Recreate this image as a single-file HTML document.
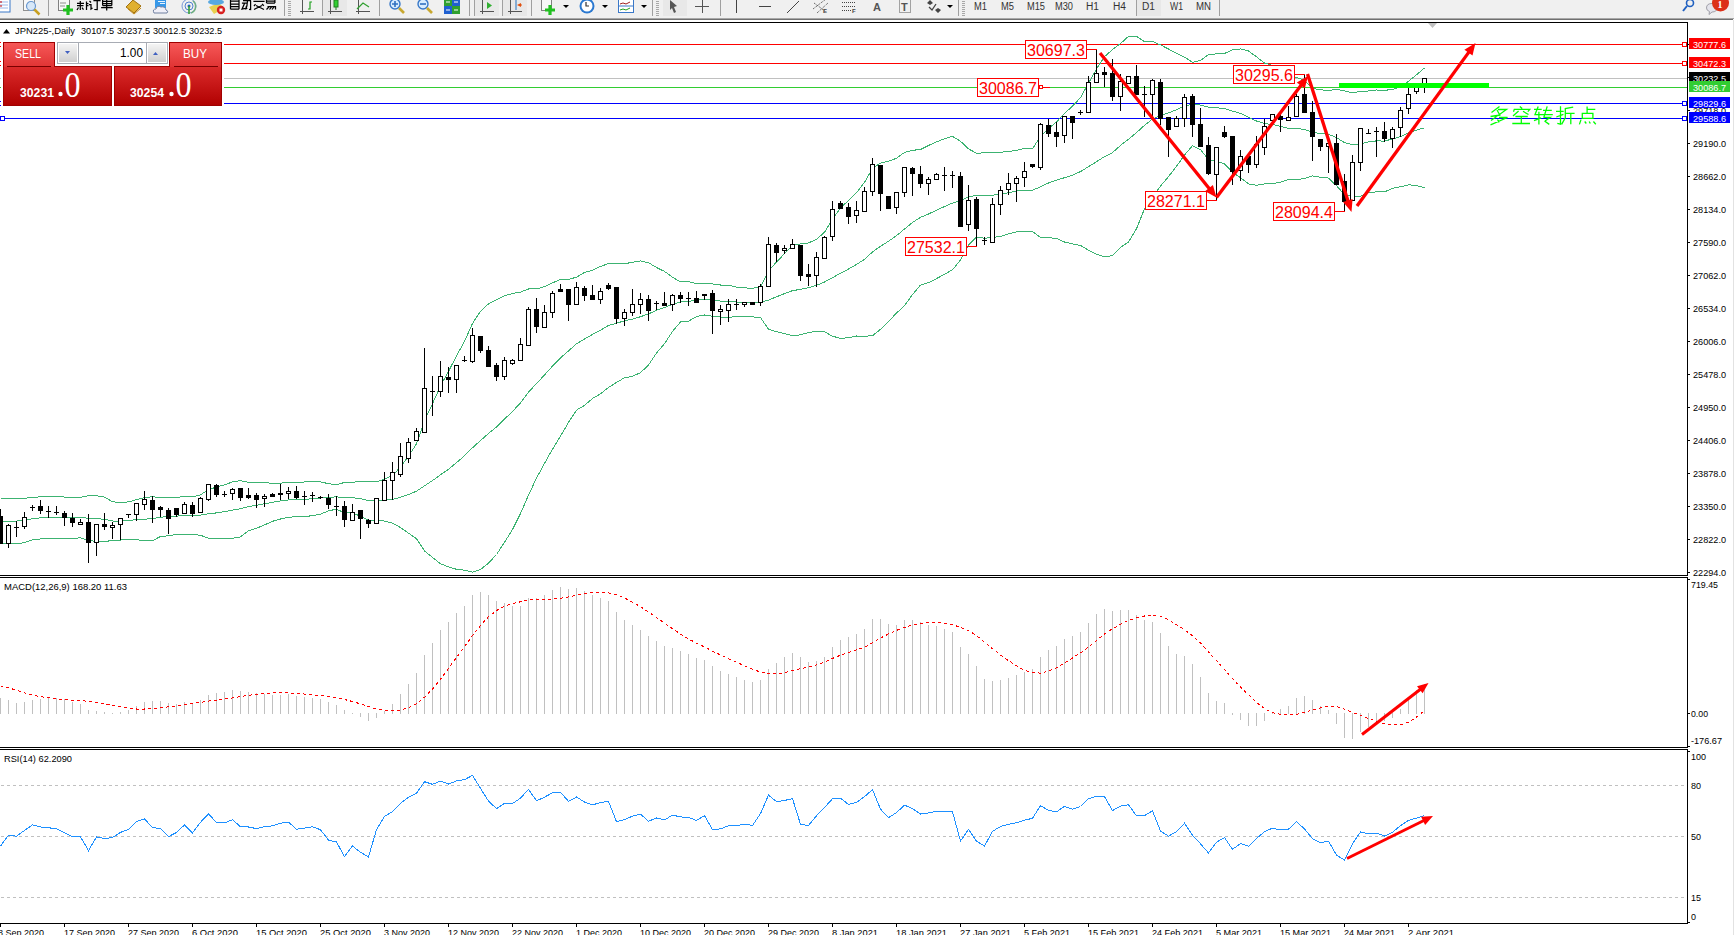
<!DOCTYPE html><html><head><meta charset="utf-8"><style>html,body{margin:0;padding:0;background:#fff;overflow:hidden}body{width:1734px;height:935px;position:relative}svg{position:absolute;left:0;top:0}</style></head><body>
<svg width="1734" height="935" viewBox="0 0 1734 935" font-family='"Liberation Sans", sans-serif'>
<rect x="0" y="0" width="1734" height="935" fill="#fff"/>
<g shape-rendering="crispEdges" fill="none" stroke="#000">
<path d="M0 22.5H1687.5V575.5H0"/>
<path d="M0 577.5H1687.5V747.5H0"/>
<path d="M0 749.5H1687.5V923.5H0"/>
<path d="M1688 572.5H1690M1688 539.5H1690M1688 506.5H1690M1688 473.5H1690M1688 440.5H1690M1688 407.5H1690M1688 374.5H1690M1688 341.5H1690M1688 308.5H1690M1688 275.5H1690M1688 242.5H1690M1688 209.5H1690M1688 176.5H1690M1688 143.5H1690"/>
</g>
<path d="M1428 23H1437L1432.5 28Z" fill="#c0c0c0"/>
<g shape-rendering="crispEdges" fill="none">
<path d="M224 44.5H1683M224 63.5H1683M0 44.5H2M0 63.5H2" stroke="#ff0000"/>
<path d="M0 78.5H1687" stroke="#c0c0c0"/>
<path d="M0 87.5H1687" stroke="#32cd32"/>
<path d="M224 103.5H1683M0 118.5H1683M0 103.5H2" stroke="#0000ff"/>
<rect x="1682.5" y="42.5" width="4" height="4" fill="#fff" stroke="#ff0000"/>
<rect x="1682.5" y="61.5" width="4" height="4" fill="#fff" stroke="#ff0000"/>
<rect x="1682.5" y="101.5" width="4" height="4" fill="#fff" stroke="#0000ff"/>
<rect x="1682.5" y="116.5" width="4" height="4" fill="#fff" stroke="#0000ff"/>
<rect x="0.5" y="116.5" width="4" height="4" fill="#fff" stroke="#0000ff"/>
<rect x="-2.5" y="42.5" width="4" height="4" fill="#fff" stroke="#ff0000"/><rect x="-2.5" y="61.5" width="4" height="4" fill="#fff" stroke="#ff0000"/><rect x="-2.5" y="101.5" width="4" height="4" fill="#fff" stroke="#0000ff"/>
</g>
<polyline points="0.5,498.3 8.5,498.3 16.5,498.3 24.5,498.2 32.5,497.5 40.5,496.8 48.5,496.2 56.5,496.8 64.5,497.0 72.5,497.0 80.5,497.3 88.5,495.7 96.5,495.8 104.5,497.1 112.5,501.8 120.5,502.5 128.5,501.9 136.5,499.6 144.5,497.6 152.5,496.7 160.5,497.7 168.5,497.7 176.5,497.6 184.5,496.3 192.5,496.9 200.5,494.9 208.5,489.5 216.5,487.1 224.5,484.8 232.5,481.9 240.5,480.7 248.5,482.4 256.5,482.3 264.5,482.6 272.5,483.3 280.5,483.1 288.5,482.6 296.5,482.3 304.5,482.0 312.5,481.7 320.5,481.8 328.5,483.7 336.5,484.8 344.5,482.4 352.5,482.5 360.5,481.1 368.5,481.3 376.5,481.7 384.5,479.2 392.5,475.5 400.5,467.0 408.5,456.0 416.5,443.9 424.5,420.7 432.5,403.7 440.5,385.8 448.5,371.4 456.5,355.9 464.5,341.4 472.5,323.5 480.5,311.3 488.5,303.9 496.5,299.6 504.5,295.8 512.5,293.5 520.5,292.1 528.5,289.0 536.5,288.9 544.5,286.7 552.5,282.9 560.5,279.4 568.5,279.4 576.5,277.2 584.5,272.5 592.5,270.2 600.5,266.4 608.5,263.6 616.5,263.9 624.5,263.8 632.5,262.2 640.5,260.9 648.5,262.7 656.5,267.5 664.5,271.4 672.5,277.2 680.5,281.9 688.5,281.6 696.5,283.8 704.5,283.6 712.5,283.9 720.5,285.0 728.5,285.0 736.5,287.2 744.5,287.9 752.5,288.3 760.5,287.1 768.5,271.1 776.5,262.0 784.5,253.7 792.5,245.5 800.5,243.9 808.5,242.9 816.5,239.3 824.5,232.3 832.5,219.1 840.5,208.0 848.5,200.4 856.5,192.8 864.5,182.4 872.5,168.4 880.5,163.1 888.5,161.1 896.5,158.3 904.5,152.4 912.5,150.3 920.5,149.5 928.5,145.5 936.5,141.8 944.5,138.8 952.5,136.3 960.5,141.3 968.5,148.8 976.5,153.3 984.5,152.8 992.5,152.8 1000.5,152.2 1008.5,151.5 1016.5,150.3 1024.5,148.4 1032.5,148.7 1040.5,136.3 1048.5,128.4 1056.5,122.0 1064.5,113.3 1072.5,106.2 1080.5,97.6 1088.5,83.3 1096.5,69.0 1104.5,56.6 1112.5,49.6 1120.5,43.6 1128.5,36.4 1136.5,36.4 1144.5,41.6 1152.5,41.5 1160.5,44.9 1168.5,49.0 1176.5,53.4 1184.5,57.1 1192.5,62.4 1200.5,60.4 1208.5,54.7 1216.5,53.8 1224.5,53.5 1232.5,49.8 1240.5,48.9 1248.5,51.0 1256.5,56.8 1264.5,63.1 1272.5,65.3 1280.5,70.6 1288.5,77.3 1296.5,77.5 1304.5,80.2 1312.5,88.3 1320.5,89.8 1328.5,90.4 1336.5,89.4 1344.5,90.8 1352.5,92.8 1360.5,91.4 1368.5,91.0 1376.5,90.0 1384.5,90.2 1392.5,89.7 1400.5,86.4 1408.5,81.3 1416.5,74.8 1424.5,68.0" fill="none" stroke="#3cb371" stroke-width="1" shape-rendering="crispEdges" />
<polyline points="0.5,521.0 8.5,521.2 16.5,521.1 24.5,520.3 32.5,518.7 40.5,517.8 48.5,517.5 56.5,517.7 64.5,517.8 72.5,517.8 80.5,517.5 88.5,518.3 96.5,518.5 104.5,519.4 112.5,521.0 120.5,521.3 128.5,520.5 136.5,519.7 144.5,519.1 152.5,518.8 160.5,517.1 168.5,516.8 176.5,516.1 184.5,515.4 192.5,515.7 200.5,515.1 208.5,513.8 216.5,512.9 224.5,511.7 232.5,510.1 240.5,508.8 248.5,506.6 256.5,505.3 264.5,503.8 272.5,502.3 280.5,501.0 288.5,499.9 296.5,499.5 304.5,499.4 312.5,498.7 320.5,498.0 328.5,497.3 336.5,496.9 344.5,497.7 352.5,497.7 360.5,498.7 368.5,500.6 376.5,500.9 384.5,500.2 392.5,499.3 400.5,497.3 408.5,494.6 416.5,491.2 424.5,485.8 432.5,480.6 440.5,474.8 448.5,469.2 456.5,462.6 464.5,455.8 472.5,447.8 480.5,440.5 488.5,433.5 496.5,427.0 504.5,419.1 512.5,411.5 520.5,402.8 528.5,392.1 536.5,383.5 544.5,375.0 552.5,366.1 560.5,357.8 568.5,350.9 576.5,343.7 584.5,339.0 592.5,334.4 600.5,330.1 608.5,325.5 616.5,323.2 624.5,320.8 632.5,319.2 640.5,316.7 648.5,313.9 656.5,310.3 664.5,307.5 672.5,304.3 680.5,302.0 688.5,301.4 696.5,300.2 704.5,299.3 712.5,300.1 720.5,301.1 728.5,301.1 736.5,302.0 744.5,302.3 752.5,302.6 760.5,302.3 768.5,300.1 776.5,296.8 784.5,293.6 792.5,290.6 800.5,289.4 808.5,287.7 816.5,285.4 824.5,282.0 832.5,277.7 840.5,273.2 848.5,269.1 856.5,264.4 864.5,259.3 872.5,252.0 880.5,246.2 888.5,241.3 896.5,235.7 904.5,229.0 912.5,222.5 920.5,217.3 928.5,214.0 936.5,210.2 944.5,206.5 952.5,203.1 960.5,200.6 968.5,196.8 976.5,195.3 984.5,195.5 992.5,195.2 1000.5,194.3 1008.5,192.7 1016.5,191.1 1024.5,190.1 1032.5,190.2 1040.5,186.8 1048.5,183.0 1056.5,180.2 1064.5,177.7 1072.5,175.1 1080.5,171.6 1088.5,166.7 1096.5,161.7 1104.5,156.6 1112.5,152.6 1120.5,145.4 1128.5,139.2 1136.5,132.6 1144.5,125.3 1152.5,119.1 1160.5,115.5 1168.5,112.8 1176.5,109.8 1184.5,106.1 1192.5,104.0 1200.5,105.1 1208.5,107.1 1216.5,107.7 1224.5,108.6 1232.5,111.1 1240.5,113.3 1248.5,117.4 1256.5,121.0 1264.5,123.6 1272.5,124.5 1280.5,126.4 1288.5,128.4 1296.5,128.5 1304.5,129.4 1312.5,132.1 1320.5,133.6 1328.5,134.3 1336.5,137.5 1344.5,142.7 1352.5,144.6 1360.5,143.8 1368.5,141.8 1376.5,140.9 1384.5,141.1 1392.5,138.9 1400.5,136.6 1408.5,133.0 1416.5,130.1 1424.5,127.8" fill="none" stroke="#3cb371" stroke-width="1" shape-rendering="crispEdges" />
<polyline points="0.5,543.8 8.5,544.0 16.5,543.9 24.5,542.5 32.5,539.9 40.5,538.9 48.5,538.8 56.5,538.6 64.5,538.7 72.5,538.7 80.5,537.7 88.5,540.8 96.5,541.2 104.5,541.8 112.5,540.2 120.5,540.1 128.5,539.1 136.5,539.7 144.5,540.7 152.5,540.8 160.5,536.4 168.5,535.8 176.5,534.5 184.5,534.6 192.5,534.5 200.5,535.3 208.5,538.1 216.5,538.7 224.5,538.7 232.5,538.2 240.5,536.9 248.5,530.7 256.5,528.3 264.5,524.9 272.5,521.3 280.5,519.0 288.5,517.2 296.5,516.8 304.5,516.7 312.5,515.6 320.5,514.2 328.5,510.9 336.5,509.1 344.5,513.0 352.5,512.8 360.5,516.3 368.5,520.0 376.5,520.0 384.5,521.1 392.5,523.1 400.5,527.6 408.5,533.2 416.5,538.6 424.5,550.9 432.5,557.5 440.5,563.7 448.5,566.9 456.5,569.3 464.5,570.2 472.5,572.1 480.5,569.6 488.5,563.1 496.5,554.5 504.5,542.3 512.5,529.5 520.5,513.5 528.5,495.2 536.5,478.1 544.5,463.4 552.5,449.2 560.5,436.2 568.5,422.4 576.5,410.1 584.5,405.4 592.5,398.5 600.5,393.8 608.5,387.5 616.5,382.4 624.5,377.8 632.5,376.3 640.5,372.6 648.5,365.1 656.5,353.1 664.5,343.7 672.5,331.4 680.5,322.0 688.5,321.2 696.5,316.6 704.5,315.0 712.5,316.3 720.5,317.1 728.5,317.2 736.5,316.8 744.5,316.7 752.5,316.9 760.5,317.6 768.5,329.2 776.5,331.7 784.5,333.6 792.5,335.7 800.5,334.8 808.5,332.5 816.5,331.5 824.5,331.7 832.5,336.2 840.5,338.4 848.5,337.7 856.5,336.0 864.5,336.3 872.5,335.7 880.5,329.3 888.5,321.5 896.5,313.1 904.5,305.6 912.5,294.6 920.5,285.1 928.5,282.6 936.5,278.6 944.5,274.2 952.5,269.8 960.5,259.9 968.5,244.8 976.5,237.2 984.5,238.2 992.5,237.6 1000.5,236.4 1008.5,233.8 1016.5,231.9 1024.5,231.8 1032.5,231.7 1040.5,237.3 1048.5,237.7 1056.5,238.4 1064.5,242.0 1072.5,243.9 1080.5,245.5 1088.5,250.1 1096.5,254.3 1104.5,256.6 1112.5,255.7 1120.5,247.2 1128.5,242.1 1136.5,228.7 1144.5,208.9 1152.5,196.8 1160.5,186.1 1168.5,176.6 1176.5,166.3 1184.5,155.1 1192.5,145.6 1200.5,149.7 1208.5,159.5 1216.5,161.6 1224.5,163.8 1232.5,172.4 1240.5,177.7 1248.5,183.9 1256.5,185.2 1264.5,184.0 1272.5,183.7 1280.5,182.2 1288.5,179.6 1296.5,179.5 1304.5,178.6 1312.5,175.9 1320.5,177.3 1328.5,178.1 1336.5,185.7 1344.5,194.7 1352.5,196.5 1360.5,196.1 1368.5,192.5 1376.5,191.9 1384.5,192.0 1392.5,188.2 1400.5,186.8 1408.5,184.8 1416.5,185.5 1424.5,187.6" fill="none" stroke="#3cb371" stroke-width="1" shape-rendering="crispEdges" />
<g shape-rendering="crispEdges">
<rect x="0" y="509" width="1" height="7" fill="#000"/>
<rect x="-2" y="516" width="5" height="28" fill="#000"/>
<rect x="8" y="524" width="1" height="1" fill="#000"/>
<rect x="8" y="544" width="1" height="4" fill="#000"/>
<rect x="6.5" y="525.5" width="4" height="18" fill="#fff" stroke="#000"/>
<rect x="16" y="521" width="1" height="6" fill="#000"/>
<rect x="16" y="528" width="1" height="9" fill="#000"/>
<rect x="14" y="527" width="5" height="1" fill="#000"/>
<rect x="24" y="512" width="1" height="5" fill="#000"/>
<rect x="24" y="527" width="1" height="2" fill="#000"/>
<rect x="22.5" y="517.5" width="4" height="9" fill="#fff" stroke="#000"/>
<rect x="32" y="505" width="1" height="2" fill="#000"/>
<rect x="32" y="508" width="1" height="3" fill="#000"/>
<rect x="30" y="507" width="5" height="1" fill="#000"/>
<rect x="40" y="500" width="1" height="6" fill="#000"/>
<rect x="40" y="511" width="1" height="3" fill="#000"/>
<rect x="38" y="506" width="5" height="5" fill="#000"/>
<rect x="48" y="506" width="1" height="5" fill="#000"/>
<rect x="48" y="512" width="1" height="6" fill="#000"/>
<rect x="46" y="511" width="5" height="1" fill="#000"/>
<rect x="56" y="506" width="1" height="6" fill="#000"/>
<rect x="56" y="513" width="1" height="2" fill="#000"/>
<rect x="54" y="512" width="5" height="1" fill="#000"/>
<rect x="64" y="511" width="1" height="2" fill="#000"/>
<rect x="64" y="518" width="1" height="8" fill="#000"/>
<rect x="62" y="513" width="5" height="5" fill="#000"/>
<rect x="72" y="513" width="1" height="5" fill="#000"/>
<rect x="72" y="523" width="1" height="4" fill="#000"/>
<rect x="70" y="518" width="5" height="5" fill="#000"/>
<rect x="80" y="519" width="1" height="3" fill="#000"/>
<rect x="78.5" y="522.5" width="4" height="2" fill="#fff" stroke="#000"/>
<rect x="88" y="514" width="1" height="8" fill="#000"/>
<rect x="88" y="543" width="1" height="20" fill="#000"/>
<rect x="86" y="522" width="5" height="21" fill="#000"/>
<rect x="96" y="543" width="1" height="13" fill="#000"/>
<rect x="94.5" y="524.5" width="4" height="18" fill="#fff" stroke="#000"/>
<rect x="104" y="513" width="1" height="11" fill="#000"/>
<rect x="104" y="527" width="1" height="3" fill="#000"/>
<rect x="102" y="524" width="5" height="3" fill="#000"/>
<rect x="112" y="522" width="1" height="3" fill="#000"/>
<rect x="112" y="528" width="1" height="11" fill="#000"/>
<rect x="110.5" y="525.5" width="4" height="2" fill="#fff" stroke="#000"/>
<rect x="120" y="525" width="1" height="15" fill="#000"/>
<rect x="118.5" y="518.5" width="4" height="6" fill="#fff" stroke="#000"/>
<rect x="128" y="515" width="1" height="3" fill="#000"/>
<rect x="126" y="514" width="5" height="1" fill="#000"/>
<rect x="136" y="515" width="1" height="6" fill="#000"/>
<rect x="134.5" y="503.5" width="4" height="11" fill="#fff" stroke="#000"/>
<rect x="144" y="491" width="1" height="8" fill="#000"/>
<rect x="144" y="505" width="1" height="5" fill="#000"/>
<rect x="142.5" y="499.5" width="4" height="5" fill="#fff" stroke="#000"/>
<rect x="152" y="496" width="1" height="4" fill="#000"/>
<rect x="152" y="510" width="1" height="13" fill="#000"/>
<rect x="150" y="500" width="5" height="10" fill="#000"/>
<rect x="160" y="506" width="1" height="1" fill="#000"/>
<rect x="160" y="510" width="1" height="7" fill="#000"/>
<rect x="158" y="507" width="5" height="3" fill="#000"/>
<rect x="168" y="508" width="1" height="2" fill="#000"/>
<rect x="168" y="519" width="1" height="15" fill="#000"/>
<rect x="166" y="510" width="5" height="9" fill="#000"/>
<rect x="176" y="515" width="1" height="2" fill="#000"/>
<rect x="174" y="508" width="5" height="7" fill="#000"/>
<rect x="184" y="502" width="1" height="2" fill="#000"/>
<rect x="182.5" y="504.5" width="4" height="9" fill="#fff" stroke="#000"/>
<rect x="192" y="502" width="1" height="3" fill="#000"/>
<rect x="192" y="514" width="1" height="3" fill="#000"/>
<rect x="190" y="505" width="5" height="9" fill="#000"/>
<rect x="200" y="497" width="1" height="1" fill="#000"/>
<rect x="198.5" y="498.5" width="4" height="14" fill="#fff" stroke="#000"/>
<rect x="208" y="500" width="1" height="1" fill="#000"/>
<rect x="206.5" y="484.5" width="4" height="15" fill="#fff" stroke="#000"/>
<rect x="216" y="484" width="1" height="1" fill="#000"/>
<rect x="216" y="495" width="1" height="2" fill="#000"/>
<rect x="214" y="485" width="5" height="10" fill="#000"/>
<rect x="224" y="491" width="1" height="3" fill="#000"/>
<rect x="224" y="495" width="1" height="2" fill="#000"/>
<rect x="222" y="494" width="5" height="1" fill="#000"/>
<rect x="232" y="488" width="1" height="1" fill="#000"/>
<rect x="232" y="494" width="1" height="6" fill="#000"/>
<rect x="230.5" y="489.5" width="4" height="4" fill="#fff" stroke="#000"/>
<rect x="240" y="498" width="1" height="3" fill="#000"/>
<rect x="238" y="488" width="5" height="10" fill="#000"/>
<rect x="248" y="488" width="1" height="7" fill="#000"/>
<rect x="248" y="498" width="1" height="1" fill="#000"/>
<rect x="246" y="495" width="5" height="3" fill="#000"/>
<rect x="256" y="493" width="1" height="2" fill="#000"/>
<rect x="256" y="500" width="1" height="8" fill="#000"/>
<rect x="254" y="495" width="5" height="5" fill="#000"/>
<rect x="264" y="494" width="1" height="2" fill="#000"/>
<rect x="264" y="499" width="1" height="8" fill="#000"/>
<rect x="262.5" y="496.5" width="4" height="2" fill="#fff" stroke="#000"/>
<rect x="272" y="493" width="1" height="1" fill="#000"/>
<rect x="270" y="494" width="5" height="3" fill="#000"/>
<rect x="280" y="484" width="1" height="9" fill="#000"/>
<rect x="280" y="495" width="1" height="5" fill="#000"/>
<rect x="278" y="493" width="5" height="2" fill="#000"/>
<rect x="288" y="487" width="1" height="4" fill="#000"/>
<rect x="288" y="494" width="1" height="5" fill="#000"/>
<rect x="286.5" y="491.5" width="4" height="2" fill="#fff" stroke="#000"/>
<rect x="296" y="486" width="1" height="5" fill="#000"/>
<rect x="296" y="498" width="1" height="1" fill="#000"/>
<rect x="294" y="491" width="5" height="7" fill="#000"/>
<rect x="304" y="491" width="1" height="5" fill="#000"/>
<rect x="304" y="497" width="1" height="8" fill="#000"/>
<rect x="302" y="496" width="5" height="1" fill="#000"/>
<rect x="312" y="492" width="1" height="3" fill="#000"/>
<rect x="312" y="496" width="1" height="6" fill="#000"/>
<rect x="310" y="495" width="5" height="1" fill="#000"/>
<rect x="320" y="496" width="1" height="1" fill="#000"/>
<rect x="320" y="498" width="1" height="1" fill="#000"/>
<rect x="318" y="497" width="5" height="1" fill="#000"/>
<rect x="328" y="494" width="1" height="4" fill="#000"/>
<rect x="328" y="505" width="1" height="4" fill="#000"/>
<rect x="326" y="498" width="5" height="7" fill="#000"/>
<rect x="336" y="496" width="1" height="10" fill="#000"/>
<rect x="336" y="507" width="1" height="9" fill="#000"/>
<rect x="334" y="506" width="5" height="1" fill="#000"/>
<rect x="344" y="501" width="1" height="5" fill="#000"/>
<rect x="344" y="520" width="1" height="7" fill="#000"/>
<rect x="342" y="506" width="5" height="14" fill="#000"/>
<rect x="352" y="504" width="1" height="8" fill="#000"/>
<rect x="350.5" y="512.5" width="4" height="8" fill="#fff" stroke="#000"/>
<rect x="360" y="519" width="1" height="20" fill="#000"/>
<rect x="358" y="510" width="5" height="9" fill="#000"/>
<rect x="368" y="519" width="1" height="1" fill="#000"/>
<rect x="368" y="524" width="1" height="4" fill="#000"/>
<rect x="366" y="520" width="5" height="4" fill="#000"/>
<rect x="374.5" y="498.5" width="4" height="25" fill="#fff" stroke="#000"/>
<rect x="384" y="472" width="1" height="8" fill="#000"/>
<rect x="382.5" y="480.5" width="4" height="20" fill="#fff" stroke="#000"/>
<rect x="392" y="462" width="1" height="10" fill="#000"/>
<rect x="392" y="481" width="1" height="19" fill="#000"/>
<rect x="390.5" y="472.5" width="4" height="8" fill="#fff" stroke="#000"/>
<rect x="400" y="443" width="1" height="13" fill="#000"/>
<rect x="400" y="475" width="1" height="2" fill="#000"/>
<rect x="398.5" y="456.5" width="4" height="18" fill="#fff" stroke="#000"/>
<rect x="408" y="438" width="1" height="4" fill="#000"/>
<rect x="408" y="459" width="1" height="4" fill="#000"/>
<rect x="406.5" y="442.5" width="4" height="16" fill="#fff" stroke="#000"/>
<rect x="416" y="428" width="1" height="3" fill="#000"/>
<rect x="414.5" y="431.5" width="4" height="9" fill="#fff" stroke="#000"/>
<rect x="424" y="348" width="1" height="40" fill="#000"/>
<rect x="422.5" y="388.5" width="4" height="44" fill="#fff" stroke="#000"/>
<rect x="432" y="376" width="1" height="15" fill="#000"/>
<rect x="432" y="392" width="1" height="24" fill="#000"/>
<rect x="430" y="391" width="5" height="1" fill="#000"/>
<rect x="440" y="361" width="1" height="15" fill="#000"/>
<rect x="440" y="392" width="1" height="5" fill="#000"/>
<rect x="438.5" y="376.5" width="4" height="15" fill="#fff" stroke="#000"/>
<rect x="448" y="367" width="1" height="10" fill="#000"/>
<rect x="448" y="380" width="1" height="13" fill="#000"/>
<rect x="446" y="377" width="5" height="3" fill="#000"/>
<rect x="456" y="380" width="1" height="13" fill="#000"/>
<rect x="454.5" y="365.5" width="4" height="14" fill="#fff" stroke="#000"/>
<rect x="464" y="356" width="1" height="4" fill="#000"/>
<rect x="464" y="361" width="1" height="1" fill="#000"/>
<rect x="462" y="360" width="5" height="1" fill="#000"/>
<rect x="472" y="328" width="1" height="7" fill="#000"/>
<rect x="472" y="362" width="1" height="1" fill="#000"/>
<rect x="470.5" y="335.5" width="4" height="26" fill="#fff" stroke="#000"/>
<rect x="480" y="351" width="1" height="2" fill="#000"/>
<rect x="478" y="336" width="5" height="15" fill="#000"/>
<rect x="488" y="346" width="1" height="4" fill="#000"/>
<rect x="486" y="350" width="5" height="17" fill="#000"/>
<rect x="496" y="363" width="1" height="2" fill="#000"/>
<rect x="496" y="377" width="1" height="4" fill="#000"/>
<rect x="494" y="365" width="5" height="12" fill="#000"/>
<rect x="504" y="357" width="1" height="3" fill="#000"/>
<rect x="504" y="377" width="1" height="3" fill="#000"/>
<rect x="502.5" y="360.5" width="4" height="16" fill="#fff" stroke="#000"/>
<rect x="512" y="359" width="1" height="1" fill="#000"/>
<rect x="512" y="364" width="1" height="1" fill="#000"/>
<rect x="510.5" y="360.5" width="4" height="3" fill="#fff" stroke="#000"/>
<rect x="520" y="338" width="1" height="6" fill="#000"/>
<rect x="518.5" y="344.5" width="4" height="16" fill="#fff" stroke="#000"/>
<rect x="528" y="307" width="1" height="2" fill="#000"/>
<rect x="526.5" y="309.5" width="4" height="36" fill="#fff" stroke="#000"/>
<rect x="536" y="298" width="1" height="11" fill="#000"/>
<rect x="536" y="327" width="1" height="6" fill="#000"/>
<rect x="534" y="309" width="5" height="18" fill="#000"/>
<rect x="544" y="305" width="1" height="7" fill="#000"/>
<rect x="542.5" y="312.5" width="4" height="15" fill="#fff" stroke="#000"/>
<rect x="552" y="291" width="1" height="2" fill="#000"/>
<rect x="552" y="313" width="1" height="5" fill="#000"/>
<rect x="550.5" y="293.5" width="4" height="19" fill="#fff" stroke="#000"/>
<rect x="560" y="284" width="1" height="5" fill="#000"/>
<rect x="558" y="289" width="5" height="3" fill="#000"/>
<rect x="568" y="305" width="1" height="16" fill="#000"/>
<rect x="566" y="289" width="5" height="16" fill="#000"/>
<rect x="576" y="282" width="1" height="5" fill="#000"/>
<rect x="574.5" y="287.5" width="4" height="17" fill="#fff" stroke="#000"/>
<rect x="584" y="286" width="1" height="2" fill="#000"/>
<rect x="584" y="296" width="1" height="5" fill="#000"/>
<rect x="582" y="288" width="5" height="8" fill="#000"/>
<rect x="592" y="285" width="1" height="10" fill="#000"/>
<rect x="590" y="295" width="5" height="5" fill="#000"/>
<rect x="600" y="288" width="1" height="3" fill="#000"/>
<rect x="600" y="300" width="1" height="4" fill="#000"/>
<rect x="598.5" y="291.5" width="4" height="8" fill="#fff" stroke="#000"/>
<rect x="608" y="283" width="1" height="2" fill="#000"/>
<rect x="608" y="289" width="1" height="1" fill="#000"/>
<rect x="606" y="285" width="5" height="4" fill="#000"/>
<rect x="616" y="319" width="1" height="5" fill="#000"/>
<rect x="614" y="287" width="5" height="32" fill="#000"/>
<rect x="624" y="309" width="1" height="3" fill="#000"/>
<rect x="624" y="319" width="1" height="7" fill="#000"/>
<rect x="622.5" y="312.5" width="4" height="6" fill="#fff" stroke="#000"/>
<rect x="632" y="289" width="1" height="15" fill="#000"/>
<rect x="632" y="313" width="1" height="3" fill="#000"/>
<rect x="630.5" y="304.5" width="4" height="8" fill="#fff" stroke="#000"/>
<rect x="640" y="293" width="1" height="6" fill="#000"/>
<rect x="640" y="305" width="1" height="9" fill="#000"/>
<rect x="638.5" y="299.5" width="4" height="5" fill="#fff" stroke="#000"/>
<rect x="648" y="295" width="1" height="4" fill="#000"/>
<rect x="648" y="311" width="1" height="10" fill="#000"/>
<rect x="646" y="299" width="5" height="12" fill="#000"/>
<rect x="656" y="301" width="1" height="2" fill="#000"/>
<rect x="656" y="304" width="1" height="6" fill="#000"/>
<rect x="654" y="303" width="5" height="1" fill="#000"/>
<rect x="664" y="292" width="1" height="11" fill="#000"/>
<rect x="662" y="303" width="5" height="3" fill="#000"/>
<rect x="672" y="294" width="1" height="1" fill="#000"/>
<rect x="672" y="305" width="1" height="6" fill="#000"/>
<rect x="670.5" y="295.5" width="4" height="9" fill="#fff" stroke="#000"/>
<rect x="680" y="292" width="1" height="3" fill="#000"/>
<rect x="680" y="299" width="1" height="4" fill="#000"/>
<rect x="678" y="295" width="5" height="4" fill="#000"/>
<rect x="688" y="292" width="1" height="6" fill="#000"/>
<rect x="688" y="299" width="1" height="7" fill="#000"/>
<rect x="686" y="298" width="5" height="1" fill="#000"/>
<rect x="696" y="291" width="1" height="7" fill="#000"/>
<rect x="694" y="298" width="5" height="5" fill="#000"/>
<rect x="704" y="296" width="1" height="4" fill="#000"/>
<rect x="702" y="294" width="5" height="2" fill="#000"/>
<rect x="712" y="290" width="1" height="3" fill="#000"/>
<rect x="712" y="311" width="1" height="23" fill="#000"/>
<rect x="710" y="293" width="5" height="18" fill="#000"/>
<rect x="720" y="305" width="1" height="4" fill="#000"/>
<rect x="720" y="312" width="1" height="13" fill="#000"/>
<rect x="718.5" y="309.5" width="4" height="2" fill="#fff" stroke="#000"/>
<rect x="728" y="299" width="1" height="5" fill="#000"/>
<rect x="728" y="311" width="1" height="11" fill="#000"/>
<rect x="726.5" y="304.5" width="4" height="6" fill="#fff" stroke="#000"/>
<rect x="736" y="299" width="1" height="5" fill="#000"/>
<rect x="736" y="305" width="1" height="5" fill="#000"/>
<rect x="734" y="304" width="5" height="1" fill="#000"/>
<rect x="744" y="305" width="1" height="2" fill="#000"/>
<rect x="742.5" y="302.5" width="4" height="2" fill="#fff" stroke="#000"/>
<rect x="750" y="302" width="5" height="3" fill="#000"/>
<rect x="760" y="284" width="1" height="2" fill="#000"/>
<rect x="760" y="303" width="1" height="3" fill="#000"/>
<rect x="758.5" y="286.5" width="4" height="16" fill="#fff" stroke="#000"/>
<rect x="768" y="237" width="1" height="7" fill="#000"/>
<rect x="766.5" y="244.5" width="4" height="42" fill="#fff" stroke="#000"/>
<rect x="776" y="243" width="1" height="2" fill="#000"/>
<rect x="776" y="253" width="1" height="9" fill="#000"/>
<rect x="774" y="245" width="5" height="8" fill="#000"/>
<rect x="784" y="245" width="1" height="3" fill="#000"/>
<rect x="784" y="251" width="1" height="3" fill="#000"/>
<rect x="782.5" y="248.5" width="4" height="2" fill="#fff" stroke="#000"/>
<rect x="792" y="239" width="1" height="5" fill="#000"/>
<rect x="790.5" y="244.5" width="4" height="4" fill="#fff" stroke="#000"/>
<rect x="800" y="276" width="1" height="5" fill="#000"/>
<rect x="798" y="245" width="5" height="31" fill="#000"/>
<rect x="808" y="264" width="1" height="10" fill="#000"/>
<rect x="808" y="277" width="1" height="9" fill="#000"/>
<rect x="806" y="274" width="5" height="3" fill="#000"/>
<rect x="816" y="252" width="1" height="5" fill="#000"/>
<rect x="816" y="276" width="1" height="11" fill="#000"/>
<rect x="814.5" y="257.5" width="4" height="18" fill="#fff" stroke="#000"/>
<rect x="824" y="236" width="1" height="1" fill="#000"/>
<rect x="822.5" y="237.5" width="4" height="21" fill="#fff" stroke="#000"/>
<rect x="832" y="201" width="1" height="8" fill="#000"/>
<rect x="832" y="237" width="1" height="4" fill="#000"/>
<rect x="830.5" y="209.5" width="4" height="27" fill="#fff" stroke="#000"/>
<rect x="840" y="201" width="1" height="2" fill="#000"/>
<rect x="838" y="203" width="5" height="6" fill="#000"/>
<rect x="848" y="203" width="1" height="4" fill="#000"/>
<rect x="848" y="217" width="1" height="7" fill="#000"/>
<rect x="846" y="207" width="5" height="10" fill="#000"/>
<rect x="856" y="201" width="1" height="9" fill="#000"/>
<rect x="856" y="216" width="1" height="7" fill="#000"/>
<rect x="854.5" y="210.5" width="4" height="5" fill="#fff" stroke="#000"/>
<rect x="864" y="187" width="1" height="4" fill="#000"/>
<rect x="862.5" y="191.5" width="4" height="20" fill="#fff" stroke="#000"/>
<rect x="872" y="158" width="1" height="6" fill="#000"/>
<rect x="872" y="192" width="1" height="4" fill="#000"/>
<rect x="870.5" y="164.5" width="4" height="27" fill="#fff" stroke="#000"/>
<rect x="880" y="194" width="1" height="17" fill="#000"/>
<rect x="878" y="165" width="5" height="29" fill="#000"/>
<rect x="886" y="196" width="5" height="13" fill="#000"/>
<rect x="896" y="208" width="1" height="6" fill="#000"/>
<rect x="894.5" y="192.5" width="4" height="15" fill="#fff" stroke="#000"/>
<rect x="904" y="193" width="1" height="4" fill="#000"/>
<rect x="902.5" y="167.5" width="4" height="25" fill="#fff" stroke="#000"/>
<rect x="912" y="167" width="1" height="1" fill="#000"/>
<rect x="912" y="174" width="1" height="22" fill="#000"/>
<rect x="910" y="168" width="5" height="6" fill="#000"/>
<rect x="920" y="166" width="1" height="8" fill="#000"/>
<rect x="920" y="184" width="1" height="4" fill="#000"/>
<rect x="918" y="174" width="5" height="10" fill="#000"/>
<rect x="928" y="177" width="1" height="2" fill="#000"/>
<rect x="928" y="184" width="1" height="11" fill="#000"/>
<rect x="926.5" y="179.5" width="4" height="4" fill="#fff" stroke="#000"/>
<rect x="936" y="173" width="1" height="1" fill="#000"/>
<rect x="934.5" y="174.5" width="4" height="5" fill="#fff" stroke="#000"/>
<rect x="944" y="167" width="1" height="8" fill="#000"/>
<rect x="944" y="176" width="1" height="15" fill="#000"/>
<rect x="942" y="175" width="5" height="1" fill="#000"/>
<rect x="952" y="171" width="1" height="4" fill="#000"/>
<rect x="952" y="176" width="1" height="12" fill="#000"/>
<rect x="950" y="175" width="5" height="1" fill="#000"/>
<rect x="960" y="172" width="1" height="4" fill="#000"/>
<rect x="958" y="176" width="5" height="51" fill="#000"/>
<rect x="968" y="185" width="1" height="15" fill="#000"/>
<rect x="968" y="225" width="1" height="6" fill="#000"/>
<rect x="966.5" y="200.5" width="4" height="24" fill="#fff" stroke="#000"/>
<rect x="976" y="197" width="1" height="2" fill="#000"/>
<rect x="976" y="229" width="1" height="18" fill="#000"/>
<rect x="974" y="199" width="5" height="30" fill="#000"/>
<rect x="984" y="237" width="1" height="3" fill="#000"/>
<rect x="984" y="241" width="1" height="4" fill="#000"/>
<rect x="982" y="240" width="5" height="1" fill="#000"/>
<rect x="992" y="198" width="1" height="6" fill="#000"/>
<rect x="990.5" y="204.5" width="4" height="38" fill="#fff" stroke="#000"/>
<rect x="1000" y="186" width="1" height="4" fill="#000"/>
<rect x="1000" y="205" width="1" height="10" fill="#000"/>
<rect x="998.5" y="190.5" width="4" height="14" fill="#fff" stroke="#000"/>
<rect x="1008" y="173" width="1" height="10" fill="#000"/>
<rect x="1008" y="190" width="1" height="5" fill="#000"/>
<rect x="1006.5" y="183.5" width="4" height="6" fill="#fff" stroke="#000"/>
<rect x="1016" y="176" width="1" height="2" fill="#000"/>
<rect x="1016" y="184" width="1" height="18" fill="#000"/>
<rect x="1014.5" y="178.5" width="4" height="5" fill="#fff" stroke="#000"/>
<rect x="1024" y="162" width="1" height="9" fill="#000"/>
<rect x="1024" y="178" width="1" height="9" fill="#000"/>
<rect x="1022.5" y="171.5" width="4" height="6" fill="#fff" stroke="#000"/>
<rect x="1032" y="167" width="1" height="1" fill="#000"/>
<rect x="1030" y="164" width="5" height="3" fill="#000"/>
<rect x="1040" y="123" width="1" height="1" fill="#000"/>
<rect x="1040" y="168" width="1" height="2" fill="#000"/>
<rect x="1038.5" y="124.5" width="4" height="43" fill="#fff" stroke="#000"/>
<rect x="1048" y="119" width="1" height="6" fill="#000"/>
<rect x="1048" y="134" width="1" height="3" fill="#000"/>
<rect x="1046" y="125" width="5" height="9" fill="#000"/>
<rect x="1056" y="122" width="1" height="10" fill="#000"/>
<rect x="1056" y="137" width="1" height="10" fill="#000"/>
<rect x="1054" y="132" width="5" height="5" fill="#000"/>
<rect x="1064" y="136" width="1" height="7" fill="#000"/>
<rect x="1062.5" y="116.5" width="4" height="19" fill="#fff" stroke="#000"/>
<rect x="1072" y="123" width="1" height="16" fill="#000"/>
<rect x="1070" y="116" width="5" height="7" fill="#000"/>
<rect x="1080" y="110" width="1" height="2" fill="#000"/>
<rect x="1080" y="113" width="1" height="2" fill="#000"/>
<rect x="1078" y="112" width="5" height="1" fill="#000"/>
<rect x="1088" y="76" width="1" height="6" fill="#000"/>
<rect x="1086.5" y="82.5" width="4" height="30" fill="#fff" stroke="#000"/>
<rect x="1096" y="49" width="1" height="24" fill="#000"/>
<rect x="1094.5" y="73.5" width="4" height="9" fill="#fff" stroke="#000"/>
<rect x="1104" y="67" width="1" height="5" fill="#000"/>
<rect x="1104" y="75" width="1" height="12" fill="#000"/>
<rect x="1102" y="72" width="5" height="3" fill="#000"/>
<rect x="1112" y="59" width="1" height="14" fill="#000"/>
<rect x="1112" y="97" width="1" height="4" fill="#000"/>
<rect x="1110" y="73" width="5" height="24" fill="#000"/>
<rect x="1120" y="74" width="1" height="7" fill="#000"/>
<rect x="1120" y="97" width="1" height="14" fill="#000"/>
<rect x="1118.5" y="81.5" width="4" height="15" fill="#fff" stroke="#000"/>
<rect x="1126.5" y="76.5" width="4" height="7" fill="#fff" stroke="#000"/>
<rect x="1136" y="65" width="1" height="11" fill="#000"/>
<rect x="1134" y="76" width="5" height="19" fill="#000"/>
<rect x="1144" y="86" width="1" height="8" fill="#000"/>
<rect x="1144" y="95" width="1" height="22" fill="#000"/>
<rect x="1142" y="94" width="5" height="1" fill="#000"/>
<rect x="1152" y="79" width="1" height="1" fill="#000"/>
<rect x="1152" y="95" width="1" height="22" fill="#000"/>
<rect x="1150.5" y="80.5" width="4" height="14" fill="#fff" stroke="#000"/>
<rect x="1160" y="79" width="1" height="3" fill="#000"/>
<rect x="1160" y="119" width="1" height="6" fill="#000"/>
<rect x="1158" y="82" width="5" height="37" fill="#000"/>
<rect x="1168" y="130" width="1" height="27" fill="#000"/>
<rect x="1166" y="117" width="5" height="13" fill="#000"/>
<rect x="1176" y="116" width="1" height="2" fill="#000"/>
<rect x="1174.5" y="118.5" width="4" height="8" fill="#fff" stroke="#000"/>
<rect x="1184" y="94" width="1" height="3" fill="#000"/>
<rect x="1184" y="119" width="1" height="8" fill="#000"/>
<rect x="1182.5" y="97.5" width="4" height="21" fill="#fff" stroke="#000"/>
<rect x="1192" y="94" width="1" height="2" fill="#000"/>
<rect x="1192" y="125" width="1" height="12" fill="#000"/>
<rect x="1190" y="96" width="5" height="29" fill="#000"/>
<rect x="1200" y="108" width="1" height="16" fill="#000"/>
<rect x="1198" y="124" width="5" height="23" fill="#000"/>
<rect x="1208" y="137" width="1" height="8" fill="#000"/>
<rect x="1208" y="174" width="1" height="1" fill="#000"/>
<rect x="1206" y="145" width="5" height="29" fill="#000"/>
<rect x="1216" y="175" width="1" height="26" fill="#000"/>
<rect x="1214.5" y="147.5" width="4" height="27" fill="#fff" stroke="#000"/>
<rect x="1224" y="126" width="1" height="6" fill="#000"/>
<rect x="1224" y="137" width="1" height="1" fill="#000"/>
<rect x="1222" y="132" width="5" height="5" fill="#000"/>
<rect x="1232" y="172" width="1" height="13" fill="#000"/>
<rect x="1230" y="136" width="5" height="36" fill="#000"/>
<rect x="1240" y="150" width="1" height="6" fill="#000"/>
<rect x="1240" y="171" width="1" height="10" fill="#000"/>
<rect x="1238.5" y="156.5" width="4" height="14" fill="#fff" stroke="#000"/>
<rect x="1248" y="153" width="1" height="3" fill="#000"/>
<rect x="1248" y="165" width="1" height="8" fill="#000"/>
<rect x="1246" y="156" width="5" height="9" fill="#000"/>
<rect x="1256" y="136" width="1" height="8" fill="#000"/>
<rect x="1256" y="165" width="1" height="3" fill="#000"/>
<rect x="1254.5" y="144.5" width="4" height="20" fill="#fff" stroke="#000"/>
<rect x="1264" y="119" width="1" height="7" fill="#000"/>
<rect x="1264" y="148" width="1" height="7" fill="#000"/>
<rect x="1262.5" y="126.5" width="4" height="21" fill="#fff" stroke="#000"/>
<rect x="1270.5" y="114.5" width="4" height="6" fill="#fff" stroke="#000"/>
<rect x="1280" y="114" width="1" height="2" fill="#000"/>
<rect x="1280" y="120" width="1" height="12" fill="#000"/>
<rect x="1278" y="116" width="5" height="4" fill="#000"/>
<rect x="1288" y="106" width="1" height="11" fill="#000"/>
<rect x="1286.5" y="117.5" width="4" height="3" fill="#fff" stroke="#000"/>
<rect x="1296" y="94" width="1" height="2" fill="#000"/>
<rect x="1294.5" y="96.5" width="4" height="20" fill="#fff" stroke="#000"/>
<rect x="1304" y="74" width="1" height="20" fill="#000"/>
<rect x="1302" y="94" width="5" height="19" fill="#000"/>
<rect x="1312" y="101" width="1" height="11" fill="#000"/>
<rect x="1312" y="137" width="1" height="24" fill="#000"/>
<rect x="1310" y="112" width="5" height="25" fill="#000"/>
<rect x="1320" y="147" width="1" height="4" fill="#000"/>
<rect x="1318" y="139" width="5" height="8" fill="#000"/>
<rect x="1328" y="147" width="1" height="26" fill="#000"/>
<rect x="1326.5" y="143.5" width="4" height="3" fill="#fff" stroke="#000"/>
<rect x="1336" y="134" width="1" height="9" fill="#000"/>
<rect x="1334" y="143" width="5" height="42" fill="#000"/>
<rect x="1344" y="174" width="1" height="7" fill="#000"/>
<rect x="1344" y="202" width="1" height="10" fill="#000"/>
<rect x="1342" y="181" width="5" height="21" fill="#000"/>
<rect x="1352" y="155" width="1" height="7" fill="#000"/>
<rect x="1350.5" y="162.5" width="4" height="38" fill="#fff" stroke="#000"/>
<rect x="1360" y="163" width="1" height="8" fill="#000"/>
<rect x="1358.5" y="128.5" width="4" height="34" fill="#fff" stroke="#000"/>
<rect x="1368" y="129" width="1" height="4" fill="#000"/>
<rect x="1366" y="133" width="5" height="1" fill="#000"/>
<rect x="1376" y="127" width="1" height="4" fill="#000"/>
<rect x="1376" y="132" width="1" height="25" fill="#000"/>
<rect x="1374" y="131" width="5" height="1" fill="#000"/>
<rect x="1384" y="122" width="1" height="9" fill="#000"/>
<rect x="1384" y="139" width="1" height="3" fill="#000"/>
<rect x="1382" y="131" width="5" height="8" fill="#000"/>
<rect x="1392" y="127" width="1" height="2" fill="#000"/>
<rect x="1392" y="139" width="1" height="9" fill="#000"/>
<rect x="1390.5" y="129.5" width="4" height="9" fill="#fff" stroke="#000"/>
<rect x="1400" y="107" width="1" height="3" fill="#000"/>
<rect x="1400" y="128" width="1" height="9" fill="#000"/>
<rect x="1398.5" y="110.5" width="4" height="17" fill="#fff" stroke="#000"/>
<rect x="1408" y="88" width="1" height="6" fill="#000"/>
<rect x="1408" y="109" width="1" height="5" fill="#000"/>
<rect x="1406.5" y="94.5" width="4" height="14" fill="#fff" stroke="#000"/>
<rect x="1416" y="84" width="1" height="2" fill="#000"/>
<rect x="1416" y="92" width="1" height="2" fill="#000"/>
<rect x="1414.5" y="86.5" width="4" height="5" fill="#fff" stroke="#000"/>
<rect x="1424" y="87" width="1" height="6" fill="#000"/>
<rect x="1422.5" y="78.5" width="4" height="8" fill="#fff" stroke="#000"/>
</g>
<g shape-rendering="crispEdges">
<rect x="0" y="698" width="1" height="16" fill="#c0c0c0"/>
<rect x="8" y="700" width="1" height="14" fill="#c0c0c0"/>
<rect x="16" y="703" width="1" height="11" fill="#c0c0c0"/>
<rect x="24" y="702" width="1" height="12" fill="#c0c0c0"/>
<rect x="32" y="700" width="1" height="14" fill="#c0c0c0"/>
<rect x="40" y="699" width="1" height="15" fill="#c0c0c0"/>
<rect x="48" y="698" width="1" height="16" fill="#c0c0c0"/>
<rect x="56" y="698" width="1" height="16" fill="#c0c0c0"/>
<rect x="64" y="699" width="1" height="15" fill="#c0c0c0"/>
<rect x="72" y="702" width="1" height="12" fill="#c0c0c0"/>
<rect x="80" y="704" width="1" height="10" fill="#c0c0c0"/>
<rect x="88" y="710" width="1" height="4" fill="#c0c0c0"/>
<rect x="96" y="711" width="1" height="3" fill="#c0c0c0"/>
<rect x="104" y="712" width="1" height="2" fill="#c0c0c0"/>
<rect x="112" y="713" width="1" height="1" fill="#c0c0c0"/>
<rect x="120" y="712" width="1" height="2" fill="#c0c0c0"/>
<rect x="128" y="710" width="1" height="4" fill="#c0c0c0"/>
<rect x="136" y="706" width="1" height="8" fill="#c0c0c0"/>
<rect x="144" y="702" width="1" height="12" fill="#c0c0c0"/>
<rect x="152" y="701" width="1" height="13" fill="#c0c0c0"/>
<rect x="160" y="701" width="1" height="13" fill="#c0c0c0"/>
<rect x="168" y="703" width="1" height="11" fill="#c0c0c0"/>
<rect x="176" y="704" width="1" height="10" fill="#c0c0c0"/>
<rect x="184" y="702" width="1" height="12" fill="#c0c0c0"/>
<rect x="192" y="703" width="1" height="11" fill="#c0c0c0"/>
<rect x="200" y="700" width="1" height="14" fill="#c0c0c0"/>
<rect x="208" y="695" width="1" height="19" fill="#c0c0c0"/>
<rect x="216" y="693" width="1" height="21" fill="#c0c0c0"/>
<rect x="224" y="692" width="1" height="22" fill="#c0c0c0"/>
<rect x="232" y="690" width="1" height="24" fill="#c0c0c0"/>
<rect x="240" y="691" width="1" height="23" fill="#c0c0c0"/>
<rect x="248" y="692" width="1" height="22" fill="#c0c0c0"/>
<rect x="256" y="693" width="1" height="21" fill="#c0c0c0"/>
<rect x="264" y="694" width="1" height="20" fill="#c0c0c0"/>
<rect x="272" y="695" width="1" height="19" fill="#c0c0c0"/>
<rect x="280" y="695" width="1" height="19" fill="#c0c0c0"/>
<rect x="288" y="694" width="1" height="20" fill="#c0c0c0"/>
<rect x="296" y="696" width="1" height="18" fill="#c0c0c0"/>
<rect x="304" y="697" width="1" height="17" fill="#c0c0c0"/>
<rect x="312" y="698" width="1" height="16" fill="#c0c0c0"/>
<rect x="320" y="699" width="1" height="15" fill="#c0c0c0"/>
<rect x="328" y="702" width="1" height="12" fill="#c0c0c0"/>
<rect x="336" y="705" width="1" height="9" fill="#c0c0c0"/>
<rect x="344" y="710" width="1" height="4" fill="#c0c0c0"/>
<rect x="352" y="713" width="1" height="1" fill="#c0c0c0"/>
<rect x="360" y="713" width="1" height="4" fill="#c0c0c0"/>
<rect x="368" y="713" width="1" height="8" fill="#c0c0c0"/>
<rect x="376" y="713" width="1" height="5" fill="#c0c0c0"/>
<rect x="384" y="711" width="1" height="3" fill="#c0c0c0"/>
<rect x="392" y="704" width="1" height="10" fill="#c0c0c0"/>
<rect x="400" y="694" width="1" height="20" fill="#c0c0c0"/>
<rect x="408" y="684" width="1" height="30" fill="#c0c0c0"/>
<rect x="416" y="673" width="1" height="41" fill="#c0c0c0"/>
<rect x="424" y="655" width="1" height="59" fill="#c0c0c0"/>
<rect x="432" y="643" width="1" height="71" fill="#c0c0c0"/>
<rect x="440" y="630" width="1" height="84" fill="#c0c0c0"/>
<rect x="448" y="622" width="1" height="92" fill="#c0c0c0"/>
<rect x="456" y="613" width="1" height="101" fill="#c0c0c0"/>
<rect x="464" y="606" width="1" height="108" fill="#c0c0c0"/>
<rect x="472" y="595" width="1" height="119" fill="#c0c0c0"/>
<rect x="480" y="592" width="1" height="122" fill="#c0c0c0"/>
<rect x="488" y="595" width="1" height="119" fill="#c0c0c0"/>
<rect x="496" y="601" width="1" height="113" fill="#c0c0c0"/>
<rect x="504" y="603" width="1" height="111" fill="#c0c0c0"/>
<rect x="512" y="606" width="1" height="108" fill="#c0c0c0"/>
<rect x="520" y="606" width="1" height="108" fill="#c0c0c0"/>
<rect x="528" y="598" width="1" height="116" fill="#c0c0c0"/>
<rect x="536" y="598" width="1" height="116" fill="#c0c0c0"/>
<rect x="544" y="595" width="1" height="119" fill="#c0c0c0"/>
<rect x="552" y="590" width="1" height="124" fill="#c0c0c0"/>
<rect x="560" y="587" width="1" height="127" fill="#c0c0c0"/>
<rect x="568" y="589" width="1" height="125" fill="#c0c0c0"/>
<rect x="576" y="588" width="1" height="126" fill="#c0c0c0"/>
<rect x="584" y="591" width="1" height="123" fill="#c0c0c0"/>
<rect x="592" y="595" width="1" height="119" fill="#c0c0c0"/>
<rect x="600" y="598" width="1" height="116" fill="#c0c0c0"/>
<rect x="608" y="601" width="1" height="113" fill="#c0c0c0"/>
<rect x="616" y="612" width="1" height="102" fill="#c0c0c0"/>
<rect x="624" y="620" width="1" height="94" fill="#c0c0c0"/>
<rect x="632" y="625" width="1" height="89" fill="#c0c0c0"/>
<rect x="640" y="630" width="1" height="84" fill="#c0c0c0"/>
<rect x="648" y="636" width="1" height="78" fill="#c0c0c0"/>
<rect x="656" y="641" width="1" height="73" fill="#c0c0c0"/>
<rect x="664" y="646" width="1" height="68" fill="#c0c0c0"/>
<rect x="672" y="648" width="1" height="66" fill="#c0c0c0"/>
<rect x="680" y="651" width="1" height="63" fill="#c0c0c0"/>
<rect x="688" y="654" width="1" height="60" fill="#c0c0c0"/>
<rect x="696" y="658" width="1" height="56" fill="#c0c0c0"/>
<rect x="704" y="660" width="1" height="54" fill="#c0c0c0"/>
<rect x="712" y="666" width="1" height="48" fill="#c0c0c0"/>
<rect x="720" y="671" width="1" height="43" fill="#c0c0c0"/>
<rect x="728" y="674" width="1" height="40" fill="#c0c0c0"/>
<rect x="736" y="677" width="1" height="37" fill="#c0c0c0"/>
<rect x="744" y="680" width="1" height="34" fill="#c0c0c0"/>
<rect x="752" y="682" width="1" height="32" fill="#c0c0c0"/>
<rect x="760" y="680" width="1" height="34" fill="#c0c0c0"/>
<rect x="768" y="669" width="1" height="45" fill="#c0c0c0"/>
<rect x="776" y="663" width="1" height="51" fill="#c0c0c0"/>
<rect x="784" y="657" width="1" height="57" fill="#c0c0c0"/>
<rect x="792" y="653" width="1" height="61" fill="#c0c0c0"/>
<rect x="800" y="657" width="1" height="57" fill="#c0c0c0"/>
<rect x="808" y="662" width="1" height="52" fill="#c0c0c0"/>
<rect x="816" y="661" width="1" height="53" fill="#c0c0c0"/>
<rect x="824" y="657" width="1" height="57" fill="#c0c0c0"/>
<rect x="832" y="647" width="1" height="67" fill="#c0c0c0"/>
<rect x="840" y="640" width="1" height="74" fill="#c0c0c0"/>
<rect x="848" y="637" width="1" height="77" fill="#c0c0c0"/>
<rect x="856" y="634" width="1" height="80" fill="#c0c0c0"/>
<rect x="864" y="629" width="1" height="85" fill="#c0c0c0"/>
<rect x="872" y="619" width="1" height="95" fill="#c0c0c0"/>
<rect x="880" y="619" width="1" height="95" fill="#c0c0c0"/>
<rect x="888" y="624" width="1" height="90" fill="#c0c0c0"/>
<rect x="896" y="625" width="1" height="89" fill="#c0c0c0"/>
<rect x="904" y="620" width="1" height="94" fill="#c0c0c0"/>
<rect x="912" y="620" width="1" height="94" fill="#c0c0c0"/>
<rect x="920" y="622" width="1" height="92" fill="#c0c0c0"/>
<rect x="928" y="625" width="1" height="89" fill="#c0c0c0"/>
<rect x="936" y="626" width="1" height="88" fill="#c0c0c0"/>
<rect x="944" y="629" width="1" height="85" fill="#c0c0c0"/>
<rect x="952" y="632" width="1" height="82" fill="#c0c0c0"/>
<rect x="960" y="647" width="1" height="67" fill="#c0c0c0"/>
<rect x="968" y="654" width="1" height="60" fill="#c0c0c0"/>
<rect x="976" y="666" width="1" height="48" fill="#c0c0c0"/>
<rect x="984" y="679" width="1" height="35" fill="#c0c0c0"/>
<rect x="992" y="681" width="1" height="33" fill="#c0c0c0"/>
<rect x="1000" y="680" width="1" height="34" fill="#c0c0c0"/>
<rect x="1008" y="678" width="1" height="36" fill="#c0c0c0"/>
<rect x="1016" y="675" width="1" height="39" fill="#c0c0c0"/>
<rect x="1024" y="672" width="1" height="42" fill="#c0c0c0"/>
<rect x="1032" y="669" width="1" height="45" fill="#c0c0c0"/>
<rect x="1040" y="657" width="1" height="57" fill="#c0c0c0"/>
<rect x="1048" y="650" width="1" height="64" fill="#c0c0c0"/>
<rect x="1056" y="646" width="1" height="68" fill="#c0c0c0"/>
<rect x="1064" y="639" width="1" height="75" fill="#c0c0c0"/>
<rect x="1072" y="636" width="1" height="78" fill="#c0c0c0"/>
<rect x="1080" y="632" width="1" height="82" fill="#c0c0c0"/>
<rect x="1088" y="623" width="1" height="91" fill="#c0c0c0"/>
<rect x="1096" y="614" width="1" height="100" fill="#c0c0c0"/>
<rect x="1104" y="609" width="1" height="105" fill="#c0c0c0"/>
<rect x="1112" y="611" width="1" height="103" fill="#c0c0c0"/>
<rect x="1120" y="610" width="1" height="104" fill="#c0c0c0"/>
<rect x="1128" y="610" width="1" height="104" fill="#c0c0c0"/>
<rect x="1136" y="615" width="1" height="99" fill="#c0c0c0"/>
<rect x="1144" y="620" width="1" height="94" fill="#c0c0c0"/>
<rect x="1152" y="622" width="1" height="92" fill="#c0c0c0"/>
<rect x="1160" y="633" width="1" height="81" fill="#c0c0c0"/>
<rect x="1168" y="646" width="1" height="68" fill="#c0c0c0"/>
<rect x="1176" y="654" width="1" height="60" fill="#c0c0c0"/>
<rect x="1184" y="656" width="1" height="58" fill="#c0c0c0"/>
<rect x="1192" y="664" width="1" height="50" fill="#c0c0c0"/>
<rect x="1200" y="677" width="1" height="37" fill="#c0c0c0"/>
<rect x="1208" y="693" width="1" height="21" fill="#c0c0c0"/>
<rect x="1216" y="701" width="1" height="13" fill="#c0c0c0"/>
<rect x="1224" y="703" width="1" height="11" fill="#c0c0c0"/>
<rect x="1232" y="713" width="1" height="2" fill="#c0c0c0"/>
<rect x="1240" y="713" width="1" height="7" fill="#c0c0c0"/>
<rect x="1248" y="713" width="1" height="13" fill="#c0c0c0"/>
<rect x="1256" y="713" width="1" height="13" fill="#c0c0c0"/>
<rect x="1264" y="713" width="1" height="8" fill="#c0c0c0"/>
<rect x="1272" y="713" width="1" height="1" fill="#c0c0c0"/>
<rect x="1280" y="709" width="1" height="5" fill="#c0c0c0"/>
<rect x="1288" y="706" width="1" height="8" fill="#c0c0c0"/>
<rect x="1296" y="698" width="1" height="16" fill="#c0c0c0"/>
<rect x="1304" y="696" width="1" height="18" fill="#c0c0c0"/>
<rect x="1312" y="700" width="1" height="14" fill="#c0c0c0"/>
<rect x="1320" y="706" width="1" height="8" fill="#c0c0c0"/>
<rect x="1328" y="710" width="1" height="4" fill="#c0c0c0"/>
<rect x="1336" y="713" width="1" height="11" fill="#c0c0c0"/>
<rect x="1344" y="713" width="1" height="25" fill="#c0c0c0"/>
<rect x="1352" y="713" width="1" height="26" fill="#c0c0c0"/>
<rect x="1360" y="713" width="1" height="19" fill="#c0c0c0"/>
<rect x="1368" y="713" width="1" height="14" fill="#c0c0c0"/>
<rect x="1376" y="713" width="1" height="10" fill="#c0c0c0"/>
<rect x="1384" y="713" width="1" height="8" fill="#c0c0c0"/>
<rect x="1392" y="713" width="1" height="5" fill="#c0c0c0"/>
<rect x="1400" y="709" width="1" height="5" fill="#c0c0c0"/>
<rect x="1408" y="699" width="1" height="15" fill="#c0c0c0"/>
<rect x="1416" y="690" width="1" height="24" fill="#c0c0c0"/>
<rect x="1424" y="684" width="1" height="30" fill="#c0c0c0"/>
</g>
<polyline points="0.5,685.8 8.5,687.8 16.5,690.2 24.5,692.9 32.5,695.2 40.5,696.6 48.5,697.7 56.5,698.7 64.5,699.8 72.5,700.2 80.5,700.6 88.5,701.4 96.5,702.4 104.5,703.8 112.5,705.4 120.5,706.9 128.5,708.3 136.5,709.0 144.5,709.0 152.5,708.7 160.5,707.7 168.5,706.8 176.5,705.8 184.5,704.6 192.5,703.5 200.5,702.4 208.5,701.1 216.5,700.1 224.5,699.1 232.5,697.9 240.5,696.6 248.5,695.3 256.5,694.4 264.5,693.4 272.5,692.8 280.5,692.8 288.5,692.9 296.5,693.3 304.5,694.1 312.5,694.8 320.5,695.6 328.5,696.5 336.5,697.7 344.5,699.5 352.5,701.5 360.5,703.9 368.5,706.7 376.5,708.9 384.5,710.4 392.5,710.9 400.5,710.1 408.5,707.8 416.5,703.7 424.5,697.3 432.5,689.1 440.5,679.1 448.5,668.4 456.5,657.5 464.5,646.6 472.5,635.6 480.5,625.5 488.5,616.7 496.5,610.6 504.5,606.2 512.5,603.6 520.5,601.8 528.5,600.2 536.5,599.3 544.5,599.3 552.5,599.1 560.5,598.3 568.5,597.0 576.5,595.4 584.5,593.7 592.5,592.6 600.5,592.6 608.5,592.9 616.5,594.7 624.5,598.0 632.5,602.2 640.5,606.7 648.5,612.0 656.5,617.5 664.5,623.1 672.5,628.6 680.5,634.2 688.5,638.9 696.5,643.2 704.5,647.0 712.5,651.1 720.5,655.0 728.5,658.7 736.5,662.2 744.5,665.8 752.5,669.2 760.5,672.1 768.5,673.3 776.5,673.6 784.5,672.7 792.5,670.6 800.5,668.7 808.5,667.0 816.5,664.9 824.5,662.1 832.5,658.4 840.5,655.2 848.5,652.4 856.5,649.8 864.5,647.2 872.5,642.9 880.5,638.1 888.5,633.9 896.5,630.4 904.5,627.4 912.5,625.1 920.5,623.5 928.5,622.4 936.5,622.2 944.5,623.3 952.5,624.7 960.5,627.3 968.5,630.5 976.5,635.6 984.5,642.2 992.5,648.8 1000.5,654.9 1008.5,660.6 1016.5,665.8 1024.5,670.3 1032.5,672.7 1040.5,673.1 1048.5,671.3 1056.5,667.6 1064.5,662.9 1072.5,658.0 1080.5,652.9 1088.5,647.0 1096.5,640.6 1104.5,633.9 1112.5,628.8 1120.5,624.4 1128.5,620.4 1136.5,617.7 1144.5,616.0 1152.5,614.9 1160.5,616.1 1168.5,619.6 1176.5,624.7 1184.5,629.7 1192.5,635.7 1200.5,643.1 1208.5,651.8 1216.5,660.7 1224.5,669.7 1232.5,678.7 1240.5,686.9 1248.5,694.8 1256.5,702.5 1264.5,708.6 1272.5,712.7 1280.5,714.4 1288.5,715.0 1296.5,714.3 1304.5,712.2 1312.5,710.1 1320.5,707.9 1328.5,706.2 1336.5,706.6 1344.5,709.2 1352.5,712.4 1360.5,715.3 1368.5,718.5 1376.5,721.4 1384.5,723.7 1392.5,724.9 1400.5,724.8 1408.5,722.2 1416.5,717.0 1424.5,710.7" fill="none" stroke="#ff0000" stroke-width="1" shape-rendering="crispEdges" stroke-dasharray="3,3"/>
<g shape-rendering="crispEdges"><path d="M1 785.5H1687M1 836.5H1687M1 897.5H1687" stroke="#c0c0c0" stroke-dasharray="3,3"/></g>
<polyline points="0.5,846.1 8.5,835.1 16.5,836.3 24.5,830.4 32.5,824.9 40.5,827.0 48.5,827.8 56.5,828.6 64.5,832.6 72.5,836.9 80.5,836.9 88.5,850.6 96.5,836.9 104.5,838.6 112.5,837.5 120.5,832.4 128.5,829.3 136.5,821.5 144.5,818.9 152.5,827.7 160.5,828.4 168.5,836.6 176.5,832.5 184.5,824.9 192.5,833.0 200.5,822.3 208.5,813.8 216.5,822.5 224.5,823.0 232.5,819.7 240.5,826.7 248.5,827.0 256.5,828.6 264.5,826.6 272.5,825.9 280.5,823.2 288.5,822.1 296.5,829.3 304.5,828.1 312.5,826.7 320.5,829.8 328.5,840.1 336.5,842.0 344.5,856.6 352.5,846.0 360.5,852.3 368.5,857.0 376.5,829.6 384.5,816.5 392.5,811.7 400.5,803.3 408.5,797.2 416.5,793.2 424.5,781.7 432.5,784.3 440.5,781.2 448.5,784.0 456.5,780.9 464.5,779.7 472.5,775.3 480.5,788.4 488.5,801.1 496.5,808.6 504.5,803.3 512.5,803.5 520.5,798.2 528.5,789.3 536.5,800.8 544.5,797.2 552.5,792.7 560.5,792.1 568.5,801.4 576.5,797.0 584.5,802.0 592.5,804.9 600.5,802.5 608.5,801.4 616.5,821.7 624.5,819.5 632.5,816.2 640.5,814.1 648.5,821.2 656.5,818.0 664.5,819.9 672.5,815.1 680.5,816.9 688.5,817.4 696.5,820.5 704.5,815.7 712.5,829.7 720.5,828.9 728.5,825.7 736.5,825.6 744.5,824.1 752.5,825.5 760.5,813.6 768.5,795.1 776.5,801.6 784.5,800.5 792.5,798.6 800.5,824.2 808.5,825.5 816.5,815.8 824.5,807.6 832.5,798.7 840.5,798.3 848.5,804.4 856.5,802.4 864.5,796.6 872.5,789.7 880.5,809.1 888.5,817.7 896.5,812.6 904.5,805.1 912.5,808.6 920.5,814.1 928.5,813.0 936.5,811.1 944.5,811.5 952.5,811.8 960.5,841.0 968.5,829.4 976.5,841.2 984.5,846.1 992.5,831.3 1000.5,826.5 1008.5,824.4 1016.5,822.7 1024.5,820.2 1032.5,818.3 1040.5,805.7 1048.5,810.4 1056.5,811.9 1064.5,806.3 1072.5,809.3 1080.5,806.5 1088.5,798.6 1096.5,796.4 1104.5,796.6 1112.5,810.5 1120.5,806.1 1128.5,804.8 1136.5,815.8 1144.5,815.7 1152.5,810.8 1160.5,831.0 1168.5,836.1 1176.5,831.6 1184.5,823.2 1192.5,835.2 1200.5,843.8 1208.5,853.0 1216.5,842.2 1224.5,837.6 1232.5,849.3 1240.5,843.6 1248.5,846.3 1256.5,838.4 1264.5,831.8 1272.5,828.1 1280.5,830.0 1288.5,829.2 1296.5,821.5 1304.5,829.0 1312.5,838.6 1320.5,842.7 1328.5,841.3 1336.5,855.1 1344.5,860.1 1352.5,843.7 1360.5,832.0 1368.5,833.9 1376.5,833.1 1384.5,836.0 1392.5,832.3 1400.5,825.6 1408.5,820.4 1416.5,818.1 1424.5,815.6" fill="none" stroke="#1e90ff" stroke-width="1" shape-rendering="crispEdges" />
<g shape-rendering="crispEdges"><path d="M1688 110.5H1690M1688 77.5H1690M1688 44.5H1690M1688 579.5H1690M1688 713.5H1690M1688 746.5H1690M1688 751.5H1690M1688 922.5H1690" stroke="#000"/></g>
<text x="1693" y="576" font-size="9.6" fill="#000" textLength="33" lengthAdjust="spacingAndGlyphs" >22294.0</text>
<text x="1693" y="543" font-size="9.6" fill="#000" textLength="33" lengthAdjust="spacingAndGlyphs" >22822.0</text>
<text x="1693" y="510" font-size="9.6" fill="#000" textLength="33" lengthAdjust="spacingAndGlyphs" >23350.0</text>
<text x="1693" y="477" font-size="9.6" fill="#000" textLength="33" lengthAdjust="spacingAndGlyphs" >23878.0</text>
<text x="1693" y="444" font-size="9.6" fill="#000" textLength="33" lengthAdjust="spacingAndGlyphs" >24406.0</text>
<text x="1693" y="411" font-size="9.6" fill="#000" textLength="33" lengthAdjust="spacingAndGlyphs" >24950.0</text>
<text x="1693" y="378" font-size="9.6" fill="#000" textLength="33" lengthAdjust="spacingAndGlyphs" >25478.0</text>
<text x="1693" y="345" font-size="9.6" fill="#000" textLength="33" lengthAdjust="spacingAndGlyphs" >26006.0</text>
<text x="1693" y="312" font-size="9.6" fill="#000" textLength="33" lengthAdjust="spacingAndGlyphs" >26534.0</text>
<text x="1693" y="279" font-size="9.6" fill="#000" textLength="33" lengthAdjust="spacingAndGlyphs" >27062.0</text>
<text x="1693" y="246" font-size="9.6" fill="#000" textLength="33" lengthAdjust="spacingAndGlyphs" >27590.0</text>
<text x="1693" y="213" font-size="9.6" fill="#000" textLength="33" lengthAdjust="spacingAndGlyphs" >28134.0</text>
<text x="1693" y="180" font-size="9.6" fill="#000" textLength="33" lengthAdjust="spacingAndGlyphs" >28662.0</text>
<text x="1693" y="147" font-size="9.6" fill="#000" textLength="33" lengthAdjust="spacingAndGlyphs" >29190.0</text>
<text x="1693" y="114" font-size="9.6" fill="#000" textLength="33" lengthAdjust="spacingAndGlyphs" >29718.0</text>
<text x="1693" y="81" font-size="9.6" fill="#000" textLength="33" lengthAdjust="spacingAndGlyphs" >30246.0</text>
<text x="1693" y="48" font-size="9.6" fill="#000" textLength="33" lengthAdjust="spacingAndGlyphs" >30774.0</text>
<text x="1691" y="588" font-size="9.6" fill="#000" textLength="27" lengthAdjust="spacingAndGlyphs" >719.45</text>
<text x="1691" y="717" font-size="9.6" fill="#000" textLength="17" lengthAdjust="spacingAndGlyphs" >0.00</text>
<text x="1691" y="744" font-size="9.6" fill="#000" textLength="31" lengthAdjust="spacingAndGlyphs" >-176.67</text>
<text x="1691" y="760" font-size="9.6" fill="#000" textLength="15" lengthAdjust="spacingAndGlyphs" >100</text>
<text x="1691" y="789" font-size="9.6" fill="#000" textLength="10" lengthAdjust="spacingAndGlyphs" >80</text>
<text x="1691" y="840" font-size="9.6" fill="#000" textLength="10" lengthAdjust="spacingAndGlyphs" >50</text>
<text x="1691" y="901" font-size="9.6" fill="#000" textLength="10" lengthAdjust="spacingAndGlyphs" >15</text>
<text x="1691" y="920" font-size="9.6" fill="#000" textLength="5" lengthAdjust="spacingAndGlyphs" >0</text>
<rect x="1689" y="38" width="41" height="11" fill="#ff0000"/>
<text x="1693" y="48" font-size="9.6" fill="#fff" textLength="33" lengthAdjust="spacingAndGlyphs" >30777.6</text>
<rect x="1689" y="57" width="41" height="11" fill="#ff0000"/>
<text x="1693" y="67" font-size="9.6" fill="#fff" textLength="33" lengthAdjust="spacingAndGlyphs" >30472.3</text>
<rect x="1689" y="72" width="41" height="11" fill="#000000"/>
<text x="1693" y="82" font-size="9.6" fill="#fff" textLength="33" lengthAdjust="spacingAndGlyphs" >30232.5</text>
<rect x="1689" y="81" width="41" height="11" fill="#32cd32"/>
<text x="1693" y="91" font-size="9.6" fill="#fff" textLength="33" lengthAdjust="spacingAndGlyphs" >30086.7</text>
<rect x="1689" y="97" width="41" height="11" fill="#0000ff"/>
<text x="1693" y="107" font-size="9.6" fill="#fff" textLength="33" lengthAdjust="spacingAndGlyphs" >29829.6</text>
<rect x="1689" y="112" width="41" height="11" fill="#0000ff"/>
<text x="1693" y="122" font-size="9.6" fill="#fff" textLength="33" lengthAdjust="spacingAndGlyphs" >29588.6</text>
<g shape-rendering="crispEdges"><path d="M0.5 924V927M64.5 924V927M128.5 924V927M192.5 924V927M256.5 924V927M320.5 924V927M384.5 924V927M448.5 924V927M512.5 924V927M576.5 924V927M640.5 924V927M704.5 924V927M768.5 924V927M832.5 924V927M896.5 924V927M960.5 924V927M1024.5 924V927M1088.5 924V927M1152.5 924V927M1216.5 924V927M1280.5 924V927M1344.5 924V927M1408.5 924V927" stroke="#000"/></g>
<text x="-2" y="936" font-size="9.6" fill="#000" textLength="46" lengthAdjust="spacingAndGlyphs" >8 Sep 2020</text>
<text x="64" y="936" font-size="9.6" fill="#000" textLength="51" lengthAdjust="spacingAndGlyphs" >17 Sep 2020</text>
<text x="128" y="936" font-size="9.6" fill="#000" textLength="51" lengthAdjust="spacingAndGlyphs" >27 Sep 2020</text>
<text x="192" y="936" font-size="9.6" fill="#000" textLength="46" lengthAdjust="spacingAndGlyphs" >6 Oct 2020</text>
<text x="256" y="936" font-size="9.6" fill="#000" textLength="51" lengthAdjust="spacingAndGlyphs" >15 Oct 2020</text>
<text x="320" y="936" font-size="9.6" fill="#000" textLength="51" lengthAdjust="spacingAndGlyphs" >25 Oct 2020</text>
<text x="384" y="936" font-size="9.6" fill="#000" textLength="46" lengthAdjust="spacingAndGlyphs" >3 Nov 2020</text>
<text x="448" y="936" font-size="9.6" fill="#000" textLength="51" lengthAdjust="spacingAndGlyphs" >12 Nov 2020</text>
<text x="512" y="936" font-size="9.6" fill="#000" textLength="51" lengthAdjust="spacingAndGlyphs" >22 Nov 2020</text>
<text x="576" y="936" font-size="9.6" fill="#000" textLength="46" lengthAdjust="spacingAndGlyphs" >1 Dec 2020</text>
<text x="640" y="936" font-size="9.6" fill="#000" textLength="51" lengthAdjust="spacingAndGlyphs" >10 Dec 2020</text>
<text x="704" y="936" font-size="9.6" fill="#000" textLength="51" lengthAdjust="spacingAndGlyphs" >20 Dec 2020</text>
<text x="768" y="936" font-size="9.6" fill="#000" textLength="51" lengthAdjust="spacingAndGlyphs" >29 Dec 2020</text>
<text x="832" y="936" font-size="9.6" fill="#000" textLength="46" lengthAdjust="spacingAndGlyphs" >8 Jan 2021</text>
<text x="896" y="936" font-size="9.6" fill="#000" textLength="51" lengthAdjust="spacingAndGlyphs" >18 Jan 2021</text>
<text x="960" y="936" font-size="9.6" fill="#000" textLength="51" lengthAdjust="spacingAndGlyphs" >27 Jan 2021</text>
<text x="1024" y="936" font-size="9.6" fill="#000" textLength="46" lengthAdjust="spacingAndGlyphs" >5 Feb 2021</text>
<text x="1088" y="936" font-size="9.6" fill="#000" textLength="51" lengthAdjust="spacingAndGlyphs" >15 Feb 2021</text>
<text x="1152" y="936" font-size="9.6" fill="#000" textLength="51" lengthAdjust="spacingAndGlyphs" >24 Feb 2021</text>
<text x="1216" y="936" font-size="9.6" fill="#000" textLength="46" lengthAdjust="spacingAndGlyphs" >5 Mar 2021</text>
<text x="1280" y="936" font-size="9.6" fill="#000" textLength="51" lengthAdjust="spacingAndGlyphs" >15 Mar 2021</text>
<text x="1344" y="936" font-size="9.6" fill="#000" textLength="51" lengthAdjust="spacingAndGlyphs" >24 Mar 2021</text>
<text x="1408" y="936" font-size="9.6" fill="#000" textLength="46" lengthAdjust="spacingAndGlyphs" >2 Apr 2021</text>
<path d="M3 33.5L6.5 29L10 33.5Z" fill="#000"/>
<text x="15" y="34" font-size="9.6" fill="#000" textLength="60" lengthAdjust="spacingAndGlyphs" >JPN225-,Daily</text>
<text x="81" y="34" font-size="9.6" fill="#000" textLength="33" lengthAdjust="spacingAndGlyphs" >30107.5</text>
<text x="117" y="34" font-size="9.6" fill="#000" textLength="33" lengthAdjust="spacingAndGlyphs" >30237.5</text>
<text x="153" y="34" font-size="9.6" fill="#000" textLength="33" lengthAdjust="spacingAndGlyphs" >30012.5</text>
<text x="189" y="34" font-size="9.6" fill="#000" textLength="33" lengthAdjust="spacingAndGlyphs" >30232.5</text>
<text x="4" y="590" font-size="9.6" fill="#000" textLength="123" lengthAdjust="spacingAndGlyphs" >MACD(12,26,9) 168.20 11.63</text>
<text x="4" y="762" font-size="9.6" fill="#000" textLength="68" lengthAdjust="spacingAndGlyphs" >RSI(14) 62.2090</text>
<g shape-rendering="crispEdges"><rect x="1025.5" y="40.5" width="61" height="18" fill="#fff" stroke="#ff0000"/>
<path d="M1087 49.5H1097" stroke="#ff0000"/></g>
<text x="1027" y="56" font-size="16" fill="#ff0000" textLength="58" lengthAdjust="spacingAndGlyphs" >30697.3</text>
<g shape-rendering="crispEdges"><rect x="977.5" y="78.5" width="61" height="18" fill="#fff" stroke="#ff0000"/>
<path d="M1039 87.5H1050" stroke="#ff0000"/></g>
<text x="979" y="94" font-size="16" fill="#ff0000" textLength="58" lengthAdjust="spacingAndGlyphs" >30086.7</text>
<rect x="1039.5" y="85.5" width="3" height="3" fill="#fff" stroke="#ff0000" shape-rendering="crispEdges"/>
<g shape-rendering="crispEdges"><rect x="1233.5" y="65.5" width="61" height="18" fill="#fff" stroke="#ff0000"/>
<path d="M1295 74.5H1305" stroke="#ff0000"/></g>
<text x="1235" y="81" font-size="16" fill="#ff0000" textLength="58" lengthAdjust="spacingAndGlyphs" >30295.6</text>
<g shape-rendering="crispEdges"><rect x="1145.5" y="191.5" width="61" height="18" fill="#fff" stroke="#ff0000"/>
<path d="M1207 200.5H1217" stroke="#ff0000"/></g>
<text x="1147" y="207" font-size="16" fill="#ff0000" textLength="58" lengthAdjust="spacingAndGlyphs" >28271.1</text>
<g shape-rendering="crispEdges"><rect x="1273.5" y="202.5" width="61" height="18" fill="#fff" stroke="#ff0000"/>
<path d="M1335 211.5H1345" stroke="#ff0000"/></g>
<text x="1275" y="218" font-size="16" fill="#ff0000" textLength="58" lengthAdjust="spacingAndGlyphs" >28094.4</text>
<g shape-rendering="crispEdges"><rect x="905.5" y="237.5" width="61" height="18" fill="#fff" stroke="#ff0000"/>
<path d="M967 246.5H977" stroke="#ff0000"/></g>
<text x="907" y="253" font-size="16" fill="#ff0000" textLength="58" lengthAdjust="spacingAndGlyphs" >27532.1</text>
<rect x="1339" y="83" width="150" height="5" fill="#00ff00"/>
<line x1="1100.0" y1="53.0" x2="1210.2" y2="189.7" stroke="#ff0000" stroke-width="3.3"/>
<path d="M1216.5 197.5L1205.1 191.3L1212.9 185.0Z" fill="#ff0000"/>
<line x1="1216.5" y1="197.5" x2="1302.0" y2="84.0" stroke="#ff0000" stroke-width="3.3"/>
<path d="M1308.0 76.0L1304.8 88.6L1296.8 82.6Z" fill="#ff0000"/>
<line x1="1307.5" y1="74.0" x2="1348.5" y2="202.5" stroke="#ff0000" stroke-width="3.3"/>
<path d="M1351.5 212.0L1343.1 202.1L1352.6 199.0Z" fill="#ff0000"/>
<line x1="1357.0" y1="206.0" x2="1469.6" y2="51.1" stroke="#ff0000" stroke-width="3.3"/>
<path d="M1475.5 43.0L1472.5 55.6L1464.4 49.8Z" fill="#ff0000"/>
<line x1="1362.0" y1="734.5" x2="1421.4" y2="688.5" stroke="#ff0000" stroke-width="3"/>
<path d="M1428.5 683.0L1422.6 693.3L1417.0 686.2Z" fill="#ff0000"/>
<line x1="1347.0" y1="858.5" x2="1424.9" y2="820.0" stroke="#ff0000" stroke-width="3"/>
<path d="M1433.0 816.0L1425.1 824.9L1421.1 816.8Z" fill="#ff0000"/>
<path d="M1499.5 106.5L1491.5 112.5M1498 109.5H1506.5L1491 120.5M1497 110L1499.5 114.5M1490.5 116.5L1500.5 115M1499 117.5H1507.5L1490.5 124.8M1497.5 119.5L1499 122.5M1519.8 106.4L1522.2 108.5M1513.5 111.7L1514.3 109.3H1529.8L1527.8 111.7M1518.6 111L1513 116M1523 111.3L1528.5 114.5M1515.4 116.5H1527.8M1521.3 116.5V123.5M1512.3 123.5H1530M1534 109.3H1541.7M1538.2 106.4L1535 114.6H1552.8M1538.9 111.7V124.4M1534 120.7L1541.1 117.8M1543 110.4H1551.8M1547.2 106.4L1543.8 117.5M1543.5 117.3H1550.3L1545 121M1544.5 121L1549.3 124.4M1556 111.4H1563.7M1560.5 106.2V124.2L1557.3 123.4M1556.3 117L1563.4 114.3M1573.2 107.2L1565.3 108.5V117.8L1561.6 124.4M1565.3 113.3H1574.6M1570.8 113.3V124.3M1587.1 106.4V113.3M1587 109.3H1595.3M1582.3 113.3H1592.9V118.3H1582.3ZM1581 119.6L1579.4 124.4M1584.7 121.5L1586.3 123.5M1589.2 121.5L1590.3 123.5M1593.4 121.5L1595.8 124.2" fill="none" stroke="#00ff00" stroke-width="1.3"/>
<defs><linearGradient id="rg" gradientUnits="userSpaceOnUse" x1="0" y1="43" x2="0" y2="67"><stop offset="0" stop-color="#f65858"/><stop offset="1" stop-color="#e03434"/></linearGradient>
<linearGradient id="rg2" gradientUnits="userSpaceOnUse" x1="0" y1="62" x2="0" y2="106"><stop offset="0" stop-color="#e03030"/><stop offset="1" stop-color="#b00000"/></linearGradient>
<linearGradient id="gb" x1="0" y1="0" x2="0" y2="1"><stop offset="0" stop-color="#f4f4f4"/><stop offset="0.5" stop-color="#e2e2e2"/><stop offset="1" stop-color="#d0d0d0"/></linearGradient></defs>
<rect x="1" y="38" width="223" height="70" fill="#fff"/>
<g shape-rendering="crispEdges">
<path d="M3.5 42.5H54.5V66.5H111.5V105.5H3.5Z" fill="url(#rg2)" stroke="#a00000"/>
<rect x="4" y="43" width="50" height="24" fill="url(#rg)"/>
<path d="M114.5 66.5H169.5V42.5H221.5V105.5H114.5Z" fill="url(#rg2)" stroke="#a00000"/>
<rect x="170" y="43" width="51" height="24" fill="url(#rg)"/>
<path d="M7 66.5H51M174 66.5H218" stroke="#7a0000"/>
<rect x="57.5" y="42.5" width="110" height="21" fill="#fff" stroke="#a8acb4"/>
<rect x="59" y="44" width="18" height="18" fill="url(#gb)"/><path d="M78.5 43V63" stroke="#a8acb4"/>
<rect x="148" y="44" width="18" height="18" fill="url(#gb)"/><path d="M146.5 43V63" stroke="#a8acb4"/>
</g>
<path d="M65 51H70L67.5 54Z" fill="#4060c0"/><path d="M153 55H158L155.5 52Z" fill="#4060c0"/>
<text x="120" y="57" font-size="12" fill="#000" textLength="23" lengthAdjust="spacingAndGlyphs" >1.00</text>
<text x="15" y="58" font-size="12" fill="#fff" textLength="26" lengthAdjust="spacingAndGlyphs" >SELL</text>
<text x="183" y="58" font-size="12" fill="#fff" textLength="24" lengthAdjust="spacingAndGlyphs" >BUY</text>
<text x="20" y="97" font-size="12" fill="#fff" textLength="34" lengthAdjust="spacingAndGlyphs" font-weight="bold" >30231</text>
<text x="130" y="97" font-size="12" fill="#fff" textLength="34" lengthAdjust="spacingAndGlyphs" font-weight="bold" >30254</text>
<circle cx="60.5" cy="94" r="2.2" fill="#fff"/><circle cx="171.5" cy="94" r="2.2" fill="#fff"/>
<text transform="translate(64.5 97) scale(0.92 1)" font-size="35" fill="#fff" font-family='"Liberation Serif", serif'>0</text>
<text transform="translate(175.5 97) scale(0.92 1)" font-size="35" fill="#fff" font-family='"Liberation Serif", serif'>0</text>
<rect x="0" y="0" width="1734" height="18" fill="#f0f0f0"/>
<rect x="0" y="18" width="1734" height="1" fill="#a8a8a8"/><rect x="0" y="19" width="1734" height="1" fill="#707070"/>
<rect x="1733" y="20" width="1" height="915" fill="#e2e2e2"/><rect x="1733" y="19" width="1" height="1" fill="#f8f8f8"/>
<g shape-rendering="crispEdges">
<rect x="48" y="0" width="1" height="16" fill="#a0a0a0"/>
<rect x="284" y="0" width="1" height="16" fill="#a0a0a0"/>
<rect x="322" y="0" width="1" height="16" fill="#a0a0a0"/>
<rect x="379" y="0" width="1" height="16" fill="#a0a0a0"/>
<rect x="469" y="0" width="1" height="16" fill="#a0a0a0"/>
<rect x="474" y="0" width="1" height="16" fill="#a0a0a0"/>
<rect x="502" y="0" width="1" height="16" fill="#a0a0a0"/>
<rect x="531" y="0" width="1" height="16" fill="#a0a0a0"/>
<rect x="652" y="0" width="1" height="16" fill="#a0a0a0"/>
<rect x="720" y="0" width="1" height="16" fill="#a0a0a0"/>
<rect x="958" y="0" width="1" height="16" fill="#a0a0a0"/>
<rect x="1136" y="0" width="1" height="16" fill="#a0a0a0"/>
<rect x="1219" y="0" width="1" height="16" fill="#a0a0a0"/>
<rect x="288" y="1" width="3" height="1" fill="#a8a8a8"/>
<rect x="288" y="3" width="3" height="1" fill="#a8a8a8"/>
<rect x="288" y="5" width="3" height="1" fill="#a8a8a8"/>
<rect x="288" y="7" width="3" height="1" fill="#a8a8a8"/>
<rect x="288" y="9" width="3" height="1" fill="#a8a8a8"/>
<rect x="288" y="11" width="3" height="1" fill="#a8a8a8"/>
<rect x="288" y="13" width="3" height="1" fill="#a8a8a8"/>
<rect x="288" y="15" width="3" height="1" fill="#a8a8a8"/>
<rect x="656" y="1" width="3" height="1" fill="#a8a8a8"/>
<rect x="656" y="3" width="3" height="1" fill="#a8a8a8"/>
<rect x="656" y="5" width="3" height="1" fill="#a8a8a8"/>
<rect x="656" y="7" width="3" height="1" fill="#a8a8a8"/>
<rect x="656" y="9" width="3" height="1" fill="#a8a8a8"/>
<rect x="656" y="11" width="3" height="1" fill="#a8a8a8"/>
<rect x="656" y="13" width="3" height="1" fill="#a8a8a8"/>
<rect x="656" y="15" width="3" height="1" fill="#a8a8a8"/>
<rect x="962" y="1" width="3" height="1" fill="#a8a8a8"/>
<rect x="962" y="3" width="3" height="1" fill="#a8a8a8"/>
<rect x="962" y="5" width="3" height="1" fill="#a8a8a8"/>
<rect x="962" y="7" width="3" height="1" fill="#a8a8a8"/>
<rect x="962" y="9" width="3" height="1" fill="#a8a8a8"/>
<rect x="962" y="11" width="3" height="1" fill="#a8a8a8"/>
<rect x="962" y="13" width="3" height="1" fill="#a8a8a8"/>
<rect x="962" y="15" width="3" height="1" fill="#a8a8a8"/>
<rect x="323" y="0" width="24" height="16" fill="#e8e8e8"/>
<rect x="475" y="0" width="24" height="16" fill="#e8e8e8"/>
<rect x="503" y="0" width="24" height="16" fill="#e8e8e8"/>
<rect x="663" y="0" width="24" height="16" fill="#e8e8e8"/>
<rect x="1137" y="0" width="24" height="16" fill="#e8e8e8"/>
</g>
<rect x="-2" y="-3" width="12" height="15" fill="#fff" stroke="#3a78c8" stroke-width="1"/>
<path d="M0 2H8M0 5H8M0 8H8" stroke="#9ab8e8"/><path d="M0 2H2M0 6H2" stroke="#c00"/>
<rect x="23.5" y="-2.5" width="11" height="13" fill="#f8f8f8" stroke="#909090"/>
<circle cx="31" cy="6" r="4.5" fill="#d8e8f8" stroke="#6a98d0" stroke-width="1.2"/><path d="M34.5 9.5L39.5 14.5" stroke="#c8a020" stroke-width="2.5"/>
<rect x="58.5" y="-2.5" width="11" height="13" fill="#f8f8f8" stroke="#808080"/><path d="M60 3H66M60 6H65" stroke="#909090"/>
<path d="M68 5V15M63 10H73" stroke="#20c020" stroke-width="3.2"/>
<path d="M126 7L133 0L141 6L134 13Z" fill="#e0b030" stroke="#a07010"/><path d="M128 9L134 14L141 8" fill="none" stroke="#c08818"/>
<rect x="155" y="-2" width="11" height="10" fill="#3898e8"/><path d="M158 1.5H165M160 3.5H165" stroke="#e8f4ff"/><path d="M154 13Q152 9 156 9Q157 5 161 7Q165 6 166 10Q169 11 167 13Z" fill="#f0f0f8" stroke="#7080a0"/>
<circle cx="189" cy="6" r="7" fill="none" stroke="#7898d8" stroke-width="1"/><circle cx="189" cy="6" r="4" fill="none" stroke="#5080d0"/><circle cx="189" cy="6" r="1.5" fill="#2060c0"/><path d="M189 6V14" stroke="#30a030" stroke-width="1.5"/><path d="M193 1A7 7 0 0 1 191 13" fill="none" stroke="#70b080" stroke-width="1.5"/>
<path d="M209 7L219 3L224 8L214 14Z" fill="#e8d050"/><ellipse cx="216" cy="2" rx="8" ry="3" fill="#58a8e0"/><circle cx="221" cy="10" r="4.2" fill="#d82020"/><rect x="219.5" y="8.5" width="3" height="3" fill="#fff"/>
<path d="M302 0V14M300 11H314" stroke="#555" stroke-width="1" shape-rendering="crispEdges"/>
<path d="M308 9H310V2H312" fill="none" stroke="#20a020" stroke-width="1.2"/>
<path d="M330 0V14M328 11H342" stroke="#555" stroke-width="1" shape-rendering="crispEdges"/>
<rect x="334" y="0" width="4" height="7" fill="#30d030" stroke="#208020"/><path d="M336 7V10" stroke="#208020"/>
<path d="M358 0V14M356 11H370" stroke="#555" stroke-width="1" shape-rendering="crispEdges"/>
<path d="M357 9L363 3L369 7" fill="none" stroke="#30a030" stroke-width="1.2"/>
<circle cx="395" cy="4" r="5" fill="#d8ecff" stroke="#3878c8" stroke-width="1.4"/><path d="M399 8L404 13" stroke="#c8a830" stroke-width="2.6"/>
<path d="M392 4H398 M395 1V7" stroke="#3070c0" stroke-width="1.6"/>
<circle cx="423" cy="4" r="5" fill="#d8ecff" stroke="#3878c8" stroke-width="1.4"/><path d="M427 8L432 13" stroke="#c8a830" stroke-width="2.6"/>
<path d="M420 4H426" stroke="#3070c0" stroke-width="1.6"/>
<rect x="444" y="-1" width="8" height="7" fill="#30a030"/><rect x="452" y="-1" width="8" height="7" fill="#2060d0"/><rect x="444" y="6" width="8" height="8" fill="#2060d0"/><rect x="452" y="6" width="8" height="8" fill="#30a030"/>
<path d="M446 2H450M454 2H458M446 10H450M454 10H458" stroke="#fff" stroke-width="1.2"/>
<path d="M482 0V14M480 11H494" stroke="#555" stroke-width="1" shape-rendering="crispEdges"/>
<path d="M487 2V9L492 5.5Z" fill="#30b030"/>
<path d="M510 0V14M508 11H522" stroke="#555" stroke-width="1" shape-rendering="crispEdges"/>
<path d="M516 -1V10" stroke="#2070c0"/><path d="M517 5L521 3V7Z" fill="#e05010"/><path d="M519 5H522" stroke="#e05010"/>
<rect x="541.5" y="-2.5" width="10" height="13" fill="#f8f8f8" stroke="#808080"/><path d="M550 5V15M545 10H555" stroke="#20c020" stroke-width="3.2"/>
<path d="M563 5H569L566 8Z" fill="#000"/>
<path d="M602 5H608L605 8Z" fill="#000"/>
<path d="M641 5H647L644 8Z" fill="#000"/>
<path d="M947 5H953L950 8Z" fill="#000"/>
<circle cx="587" cy="6" r="7.5" fill="#2a78d0"/><circle cx="587" cy="6" r="5.5" fill="#fff"/><path d="M586 2V6H589" stroke="#333" stroke-width="1.2" fill="none"/>
<rect x="618.5" y="-1.5" width="15" height="14" fill="#fff" stroke="#3a78c8"/><path d="M619 6H633" stroke="#3a78c8"/><path d="M620 4L623 3L626 4L630 2" fill="none" stroke="#a02020"/><path d="M620 10L623 9L626 10L630 8" fill="none" stroke="#20a020"/>
<path d="M670 0L677 6L674 7L676 12L674 13L672 8L670 10Z" fill="#555"/>
<path d="M695 6.5H709M702.5 0V13" stroke="#555" shape-rendering="crispEdges"/>
<path d="M736.5 0V13M759 6.5H771" stroke="#444" shape-rendering="crispEdges"/><path d="M787 13L799 1" stroke="#444"/>
<path d="M813 9L826 -1M817 13L828 3M814 3L825 11" stroke="#444" stroke-dasharray="1,1"/>
<text x="823" y="13" font-size="6" fill="#444" font-weight="bold" >E</text>
<path d="M842 2.5H856M842 6.5H856M842 10.5H852" stroke="#444" stroke-dasharray="1,1" shape-rendering="crispEdges"/>
<text x="852" y="13" font-size="6" fill="#444" font-weight="bold" >F</text>
<text x="873" y="11" font-size="11" fill="#555" font-weight="bold" >A</text>
<rect x="899.5" y="-0.5" width="11" height="13" fill="none" stroke="#555" stroke-dasharray="1,1"/>
<text x="901" y="11" font-size="11" fill="#555" font-weight="bold" >T</text>
<path d="M927 3L930 0L933 3L930 5ZM935 10L938 8L941 10L938 13Z" fill="#444"/><path d="M929 7L932 10L936 4" fill="none" stroke="#444" stroke-width="1.3"/>
<text x="974" y="10" font-size="10" fill="#333" textLength="13" lengthAdjust="spacingAndGlyphs" >M1</text>
<text x="1001" y="10" font-size="10" fill="#333" textLength="13" lengthAdjust="spacingAndGlyphs" >M5</text>
<text x="1027" y="10" font-size="10" fill="#333" textLength="18" lengthAdjust="spacingAndGlyphs" >M15</text>
<text x="1055" y="10" font-size="10" fill="#333" textLength="18" lengthAdjust="spacingAndGlyphs" >M30</text>
<text x="1086" y="10" font-size="10" fill="#333" textLength="13" lengthAdjust="spacingAndGlyphs" >H1</text>
<text x="1113" y="10" font-size="10" fill="#333" textLength="13" lengthAdjust="spacingAndGlyphs" >H4</text>
<text x="1142" y="10" font-size="10" fill="#333" textLength="13" lengthAdjust="spacingAndGlyphs" >D1</text>
<text x="1170" y="10" font-size="10" fill="#333" textLength="13" lengthAdjust="spacingAndGlyphs" >W1</text>
<text x="1196" y="10" font-size="10" fill="#333" textLength="15" lengthAdjust="spacingAndGlyphs" >MN</text>
<circle cx="1690" cy="3" r="3.5" fill="none" stroke="#2060c0" stroke-width="1.6"/><path d="M1687 6L1683 11" stroke="#2060c0" stroke-width="2"/>
<path d="M1706.5 8Q1706.5 3.5 1712 3.5Q1717 3.5 1717 8Q1717 12 1712 12L1709 14.5L1709.5 11.5Q1706.5 10.5 1706.5 8Z" fill="#e4e4ec" stroke="#a0a0a8"/>
<circle cx="1720.5" cy="3" r="8.5" fill="#dc3018"/>
<text x="1717.5" y="8" font-size="10" fill="#fff" font-weight="bold" font-family='"Liberation Serif", serif' >1</text>
<path d="M77 3.3H84M77 5.6H83.5M80.3 1V10M78.5 7.5L77 10M82 7.5L83.5 9.5M86.5 1.5V10M86.5 3.5H88.5M86.5 5.6H88.5M89.5 1L91 2.5M89 4.5H91V9L92.5 8M93.4 0.5H100.6M97.2 0.5V9.7L94.3 9.5M102.6 1.3H111.8M102.6 3.6H111.8M102.6 5.6H111.8M102.6 0V5.6M111.8 0V5.6M106.7 0V10.5M101.1 7.5H112.7" fill="none" stroke="#000" stroke-width="1.25"/>
<path d="M230.5 0V9.3M239 0V9.3M230.5 1.2H239M230.5 4H239M230.5 6.5H239M230.5 9H239M241.9 3.1H246.6M244.5 3.5L242 9.2L247 8M245.8 6.5L247 9M243 0.6H251M250.6 0.6V9.5L249 9.3M247.5 0.6Q247.5 6 245.5 9.5M253.4 1.4H264.6M255.5 4L254 6M262 4L263.8 5.8M256 5.5L264 9.5M262 5.5L254 9.5M266.5 1.2H274.9M266.5 3.1H274.9M266.5 0V3.1M274.9 0V3.1M267.5 6.5H275.5V9.5M269 6.8L266.5 9.5M271.5 6.8L269.5 9.5M274 6.8L272 9.5" fill="none" stroke="#000" stroke-width="1.25"/>
</svg>
</body></html>
